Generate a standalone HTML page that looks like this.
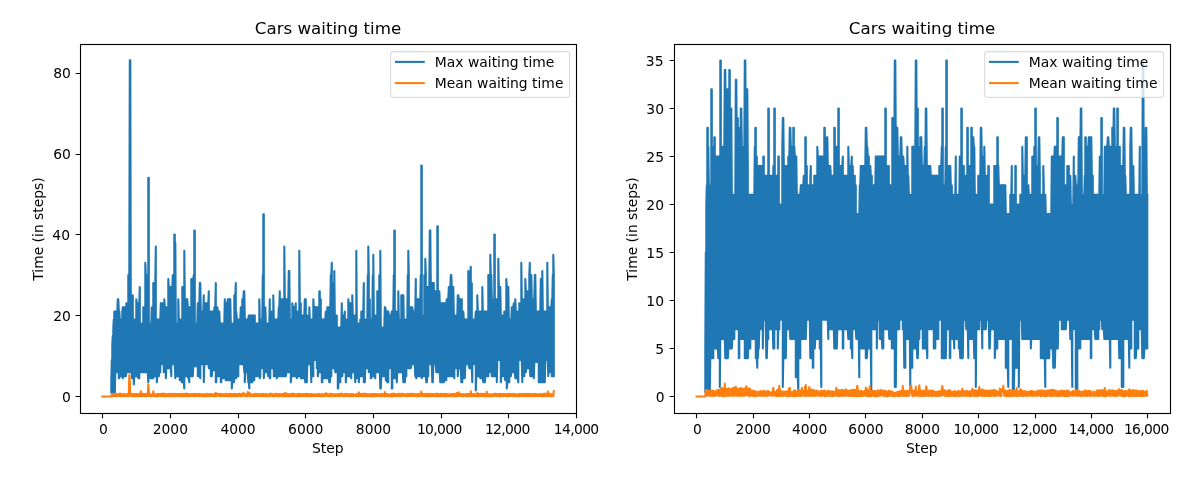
<!DOCTYPE html>
<html lang="en">
<head>
<meta charset="utf-8">
<title>Cars waiting time</title>
<style>
html,body{margin:0;padding:0;background:#fff;}
body{width:1200px;height:482px;overflow:hidden;}
svg{display:block;opacity:0.999;will-change:transform;}
svg text{font-family:"DejaVu Sans","Liberation Sans",sans-serif;font-size:13.889px;fill:#000;}
</style>
</head>
<body>
<svg width="1200" height="482" viewBox="0 0 1200 482">
<rect width="1200" height="482" fill="#fff"/>
<clipPath id="clip0"><rect x="80.5" y="44.5" width="496.0" height="369.0"/></clipPath>
<g clip-path="url(#clip0)" fill="none" stroke-linejoin="round" stroke-linecap="square" stroke-width="2.083">
<path stroke="#1f77b4" d="M111.30 392.45L111.30 380.30L111.80 360.05L111.80 392.45L112.30 392.45L112.30 343.85L112.80 335.75L112.80 392.45L113.30 392.45L113.30 327.65L113.80 319.55L113.80 392.45L114.30 392.45L114.30 311.45L114.80 311.45L114.80 392.45L115.30 372.20L115.30 311.45L115.80 311.45L115.80 372.20L116.30 372.20L116.30 311.45L116.80 311.45L116.80 372.20L117.30 372.20L117.30 311.45L117.80 299.30L117.80 372.20L118.30 372.20L118.30 299.30L118.80 311.45L118.80 378.27L119.30 378.27L119.30 311.45L119.80 319.55L119.80 376.25L120.30 376.25L120.30 319.55L120.80 319.55L120.80 376.25L121.30 376.25L121.30 319.55L121.80 319.55L121.80 376.25L122.30 376.25L122.30 311.45L122.80 307.40L122.80 378.27L123.30 376.25L123.30 307.40L123.80 307.40L123.80 376.25L124.30 376.25L124.30 307.40L124.80 307.40L124.80 376.25L125.30 376.25L125.30 307.40L125.80 307.40L125.80 376.25L126.30 372.20L126.30 303.35L126.80 303.35L126.80 372.20L127.30 372.20L127.30 303.35L127.80 303.35L127.80 372.20L128.30 372.20L128.30 275.00L128.80 275.00L128.80 372.20L129.30 372.20L129.30 275.00L129.80 60.35L129.80 372.20L130.30 372.20L130.30 60.35L130.80 319.55L130.80 372.20L131.30 372.20L131.30 319.55L131.80 319.55L131.80 378.27L132.30 378.27L132.30 319.55L132.80 295.25L132.80 378.27L133.30 378.27L133.30 319.55L133.80 319.55L133.80 384.35L134.30 376.25L134.30 319.55L134.80 319.55L134.80 376.25L135.30 376.25L135.30 319.55L135.80 319.55L135.80 376.25L136.30 376.25L136.30 299.30L136.80 303.35L136.80 376.25L137.30 376.25L137.30 303.35L137.80 303.35L137.80 376.25L138.30 378.27L138.30 303.35L138.80 303.35L138.80 378.27L139.30 378.27L139.30 303.35L139.80 287.15L139.80 372.20L140.30 372.20L140.30 323.60L140.80 323.60L140.80 372.20L141.30 372.20L141.30 323.60L141.80 323.60L141.80 372.20L142.30 372.20L142.30 323.60L142.80 323.60L142.80 372.20L143.30 372.20L143.30 307.40L143.80 307.40L143.80 372.20L144.30 372.20L144.30 307.40L144.80 307.40L144.80 372.20L145.30 372.20L145.30 262.85L145.80 275.00L145.80 372.20L146.30 372.20L146.30 275.00L146.80 275.00L146.80 372.20L147.30 372.20L147.30 275.00L147.80 275.00L147.80 372.20L148.30 382.32L148.30 177.80L148.80 177.80L148.80 378.27L149.30 378.27L149.30 323.60L149.80 323.60L149.80 378.27L150.30 378.27L150.30 323.60L150.80 323.60L150.80 378.27L151.30 378.27L151.30 323.60L151.80 307.40L151.80 378.27L152.30 378.27L152.30 307.40L152.80 307.40L152.80 378.27L153.30 378.27L153.30 283.10L153.80 283.10L153.80 376.25L154.30 376.25L154.30 283.10L154.80 283.10L154.80 376.25L155.30 376.25L155.30 283.10L155.80 246.65L155.80 376.25L156.30 376.25L156.30 319.55L156.80 319.55L156.80 382.32L157.30 376.25L157.30 319.55L157.80 319.55L157.80 376.25L158.30 376.25L158.30 319.55L158.80 319.55L158.80 376.25L159.30 372.20L159.30 319.55L159.80 319.55L159.80 372.20L160.30 372.20L160.30 319.55L160.80 303.35L160.80 364.10L161.30 364.10L161.30 303.35L161.80 303.35L161.80 364.10L162.30 364.10L162.30 303.35L162.80 303.35L162.80 364.10L163.30 364.10L163.30 303.35L163.80 303.35L163.80 372.20L164.30 372.20L164.30 299.30L164.80 307.40L164.80 372.20L165.30 372.20L165.30 307.40L165.80 307.40L165.80 378.27L166.30 368.15L166.30 307.40L166.80 307.40L166.80 368.15L167.30 368.15L167.30 307.40L167.80 307.40L167.80 368.15L168.30 368.15L168.30 279.05L168.80 287.15L168.80 368.15L169.30 368.15L169.30 287.15L169.80 287.15L169.80 368.15L170.30 368.15L170.30 287.15L170.80 287.15L170.80 368.15L171.30 376.25L171.30 287.15L171.80 287.15L171.80 364.10L172.30 364.10L172.30 287.15L172.80 275.00L172.80 364.10L173.30 364.10L173.30 275.00L173.80 275.00L173.80 364.10L174.30 364.10L174.30 234.50L174.80 234.50L174.80 364.10L175.30 378.27L175.30 242.60L175.80 323.60L175.80 376.25L176.30 376.25L176.30 323.60L176.80 323.60L176.80 376.25L177.30 376.25L177.30 323.60L177.80 323.60L177.80 376.25L178.30 376.25L178.30 299.30L178.80 319.55L178.80 376.25L179.30 376.25L179.30 319.55L179.80 319.55L179.80 380.30L180.30 380.30L180.30 319.55L180.80 319.55L180.80 380.30L181.30 380.30L181.30 319.55L181.80 319.55L181.80 382.32L182.30 382.32L182.30 287.15L182.80 287.15L182.80 382.32L183.30 382.32L183.30 287.15L183.80 287.15L183.80 382.32L184.30 388.40L184.30 250.70L184.80 299.30L184.80 376.25L185.30 376.25L185.30 299.30L185.80 299.30L185.80 376.25L186.30 376.25L186.30 299.30L186.80 299.30L186.80 376.25L187.30 376.25L187.30 299.30L187.80 307.40L187.80 376.25L188.30 378.27L188.30 307.40L188.80 307.40L188.80 378.27L189.30 382.32L189.30 307.40L189.80 307.40L189.80 376.25L190.30 376.25L190.30 307.40L190.80 307.40L190.80 376.25L191.30 376.25L191.30 279.05L191.80 279.05L191.80 376.25L192.30 376.25L192.30 279.05L192.80 279.05L192.80 376.25L193.30 366.12L193.30 279.05L193.80 275.00L193.80 366.12L194.30 366.12L194.30 230.45L194.80 230.45L194.80 366.12L195.30 366.12L195.30 323.60L195.80 323.60L195.80 366.12L196.30 366.12L196.30 323.60L196.80 323.60L196.80 366.12L197.30 366.12L197.30 323.60L197.80 303.35L197.80 376.25L198.30 376.25L198.30 303.35L198.80 303.35L198.80 376.25L199.30 376.25L199.30 303.35L199.80 283.10L199.80 376.25L200.30 378.27L200.30 283.10L200.80 311.45L200.80 364.10L201.30 364.10L201.30 311.45L201.80 311.45L201.80 364.10L202.30 364.10L202.30 311.45L202.80 311.45L202.80 364.10L203.30 364.10L203.30 311.45L203.80 295.25L203.80 382.32L204.30 364.10L204.30 303.35L204.80 303.35L204.80 364.10L205.30 364.10L205.30 303.35L205.80 303.35L205.80 364.10L206.30 364.10L206.30 303.35L206.80 303.35L206.80 364.10L207.30 364.10L207.30 303.35L207.80 303.35L207.80 364.10L208.30 364.10L208.30 303.35L208.80 291.20L208.80 368.15L209.30 368.15L209.30 311.45L209.80 311.45L209.80 368.15L210.30 368.15L210.30 311.45L210.80 311.45L210.80 376.25L211.30 376.25L211.30 311.45L211.80 311.45L211.80 376.25L212.30 370.18L212.30 311.45L212.80 311.45L212.80 370.18L213.30 370.18L213.30 311.45L213.80 311.45L213.80 370.18L214.30 370.18L214.30 307.40L214.80 307.40L214.80 370.18L215.30 370.18L215.30 307.40L215.80 283.10L215.80 382.32L216.30 382.32L216.30 307.40L216.80 307.40L216.80 376.25L217.30 376.25L217.30 307.40L217.80 311.45L217.80 376.25L218.30 376.25L218.30 311.45L218.80 311.45L218.80 376.25L219.30 376.25L219.30 311.45L219.80 323.60L219.80 376.25L220.30 376.25L220.30 323.60L220.80 323.60L220.80 382.32L221.30 382.32L221.30 323.60L221.80 323.60L221.80 378.27L222.30 378.27L222.30 323.60L222.80 323.60L222.80 378.27L223.30 378.27L223.30 323.60L223.80 323.60L223.80 378.27L224.30 378.27L224.30 323.60L224.80 299.30L224.80 378.27L225.30 378.27L225.30 303.35L225.80 303.35L225.80 380.30L226.30 380.30L226.30 303.35L226.80 303.35L226.80 380.30L227.30 380.30L227.30 303.35L227.80 299.30L227.80 380.30L228.30 380.30L228.30 299.30L228.80 299.30L228.80 380.30L229.30 380.30L229.30 299.30L229.80 299.30L229.80 380.30L230.30 380.30L230.30 299.30L230.80 323.60L230.80 380.30L231.30 380.30L231.30 323.60L231.80 323.60L231.80 388.40L232.30 382.32L232.30 323.60L232.80 323.60L232.80 382.32L233.30 382.32L233.30 323.60L233.80 323.60L233.80 382.32L234.30 378.27L234.30 295.25L234.80 295.25L234.80 378.27L235.30 378.27L235.30 295.25L235.80 283.10L235.80 378.27L236.30 378.27L236.30 311.45L236.80 319.55L236.80 376.25L237.30 376.25L237.30 319.55L237.80 319.55L237.80 376.25L238.30 376.25L238.30 319.55L238.80 319.55L238.80 364.10L239.30 364.10L239.30 319.55L239.80 319.55L239.80 364.10L240.30 364.10L240.30 319.55L240.80 307.40L240.80 364.10L241.30 364.10L241.30 307.40L241.80 307.40L241.80 364.10L242.30 364.10L242.30 299.30L242.80 299.30L242.80 364.10L243.30 364.10L243.30 299.30L243.80 291.20L243.80 364.10L244.30 372.20L244.30 291.20L244.80 319.55L244.80 382.32L245.30 372.20L245.30 319.55L245.80 319.55L245.80 372.20L246.30 372.20L246.30 319.55L246.80 319.55L246.80 372.20L247.30 372.20L247.30 319.55L247.80 319.55L247.80 372.20L248.30 382.32L248.30 319.55L248.80 315.50L248.80 382.32L249.30 388.40L249.30 315.50L249.80 315.50L249.80 382.32L250.30 382.32L250.30 315.50L250.80 315.50L250.80 382.32L251.30 382.32L251.30 315.50L251.80 315.50L251.80 382.32L252.30 382.32L252.30 315.50L252.80 315.50L252.80 380.30L253.30 380.30L253.30 315.50L253.80 315.50L253.80 380.30L254.30 380.30L254.30 315.50L254.80 315.50L254.80 376.25L255.30 376.25L255.30 323.60L255.80 323.60L255.80 376.25L256.30 376.25L256.30 323.60L256.80 323.60L256.80 376.25L257.30 376.25L257.30 323.60L257.80 323.60L257.80 376.25L258.30 376.25L258.30 323.60L258.80 323.60L258.80 376.25L259.30 376.25L259.30 299.30L259.80 319.55L259.80 378.27L260.30 376.25L260.30 319.55L260.80 319.55L260.80 368.15L261.30 368.15L261.30 319.55L261.80 319.55L261.80 368.15L262.30 368.15L262.30 319.55L262.80 275.00L262.80 368.15L263.30 368.15L263.30 214.25L263.80 214.25L263.80 378.27L264.30 372.20L264.30 307.40L264.80 307.40L264.80 372.20L265.30 372.20L265.30 307.40L265.80 323.60L265.80 372.20L266.30 372.20L266.30 323.60L266.80 323.60L266.80 372.20L267.30 372.20L267.30 323.60L267.80 323.60L267.80 372.20L268.30 376.25L268.30 323.60L268.80 323.60L268.80 376.25L269.30 376.25L269.30 323.60L269.80 299.30L269.80 378.27L270.30 378.27L270.30 311.45L270.80 311.45L270.80 368.15L271.30 368.15L271.30 311.45L271.80 311.45L271.80 368.15L272.30 368.15L272.30 311.45L272.80 311.45L272.80 368.15L273.30 368.15L273.30 295.25L273.80 319.55L273.80 376.25L274.30 376.25L274.30 319.55L274.80 319.55L274.80 376.25L275.30 376.25L275.30 319.55L275.80 319.55L275.80 376.25L276.30 376.25L276.30 319.55L276.80 319.55L276.80 378.27L277.30 376.25L277.30 319.55L277.80 319.55L277.80 376.25L278.30 376.25L278.30 319.55L278.80 307.40L278.80 376.25L279.30 376.25L279.30 307.40L279.80 291.20L279.80 376.25L280.30 376.25L280.30 299.30L280.80 299.30L280.80 376.25L281.30 376.25L281.30 299.30L281.80 299.30L281.80 376.25L282.30 376.25L282.30 299.30L282.80 299.30L282.80 376.25L283.30 376.25L283.30 299.30L283.80 299.30L283.80 376.25L284.30 376.25L284.30 246.65L284.80 299.30L284.80 376.25L285.30 376.25L285.30 299.30L285.80 299.30L285.80 376.25L286.30 372.20L286.30 299.30L286.80 299.30L286.80 372.20L287.30 372.20L287.30 299.30L287.80 299.30L287.80 372.20L288.30 372.20L288.30 299.30L288.80 270.95L288.80 372.20L289.30 372.20L289.30 270.95L289.80 319.55L289.80 372.20L290.30 372.20L290.30 319.55L290.80 319.55L290.80 382.32L291.30 376.25L291.30 319.55L291.80 319.55L291.80 376.25L292.30 376.25L292.30 303.35L292.80 307.40L292.80 376.25L293.30 376.25L293.30 307.40L293.80 307.40L293.80 376.25L294.30 376.25L294.30 307.40L294.80 307.40L294.80 376.25L295.30 376.25L295.30 307.40L295.80 303.35L295.80 376.25L296.30 376.25L296.30 311.45L296.80 311.45L296.80 378.27L297.30 376.25L297.30 311.45L297.80 311.45L297.80 376.25L298.30 376.25L298.30 311.45L298.80 311.45L298.80 376.25L299.30 376.25L299.30 250.70L299.80 303.35L299.80 376.25L300.30 376.25L300.30 303.35L300.80 303.35L300.80 378.27L301.30 378.27L301.30 315.50L301.80 315.50L301.80 378.27L302.30 378.27L302.30 315.50L302.80 315.50L302.80 378.27L303.30 378.27L303.30 315.50L303.80 315.50L303.80 378.27L304.30 378.27L304.30 315.50L304.80 299.30L304.80 378.27L305.30 382.32L305.30 299.30L305.80 299.30L305.80 382.32L306.30 382.32L306.30 315.50L306.80 315.50L306.80 382.32L307.30 364.10L307.30 315.50L307.80 315.50L307.80 364.10L308.30 364.10L308.30 315.50L308.80 315.50L308.80 364.10L309.30 364.10L309.30 307.40L309.80 319.55L309.80 364.10L310.30 364.10L310.30 319.55L310.80 319.55L310.80 364.10L311.30 382.32L311.30 319.55L311.80 319.55L311.80 376.25L312.30 376.25L312.30 319.55L312.80 319.55L312.80 376.25L313.30 376.25L313.30 299.30L313.80 307.40L313.80 360.05L314.30 360.05L314.30 307.40L314.80 307.40L314.80 360.05L315.30 360.05L315.30 307.40L315.80 307.40L315.80 360.05L316.30 360.05L316.30 307.40L316.80 307.40L316.80 368.15L317.30 368.15L317.30 307.40L317.80 307.40L317.80 376.25L318.30 372.20L318.30 307.40L318.80 307.40L318.80 372.20L319.30 372.20L319.30 291.20L319.80 291.20L319.80 372.20L320.30 372.20L320.30 299.30L320.80 299.30L320.80 372.20L321.30 372.20L321.30 319.55L321.80 319.55L321.80 382.32L322.30 382.32L322.30 319.55L322.80 319.55L322.80 378.27L323.30 378.27L323.30 319.55L323.80 319.55L323.80 378.27L324.30 378.27L324.30 319.55L324.80 319.55L324.80 378.27L325.30 378.27L325.30 319.55L325.80 311.45L325.80 378.27L326.30 378.27L326.30 311.45L326.80 311.45L326.80 378.27L327.30 378.27L327.30 307.40L327.80 307.40L327.80 378.27L328.30 378.27L328.30 307.40L328.80 307.40L328.80 378.27L329.30 382.32L329.30 307.40L329.80 307.40L329.80 382.32L330.30 376.25L330.30 307.40L330.80 275.00L330.80 376.25L331.30 376.25L331.30 275.00L331.80 262.85L331.80 368.15L332.30 368.15L332.30 283.10L332.80 283.10L332.80 368.15L333.30 368.15L333.30 283.10L333.80 283.10L333.80 368.15L334.30 368.15L334.30 270.95L334.80 315.50L334.80 368.15L335.30 372.20L335.30 315.50L335.80 315.50L335.80 372.20L336.30 372.20L336.30 315.50L336.80 315.50L336.80 372.20L337.30 372.20L337.30 327.65L337.80 327.65L337.80 388.40L338.30 388.40L338.30 327.65L338.80 327.65L338.80 382.32L339.30 382.32L339.30 327.65L339.80 327.65L339.80 382.32L340.30 382.32L340.30 327.65L340.80 327.65L340.80 376.25L341.30 376.25L341.30 327.65L341.80 303.35L341.80 376.25L342.30 376.25L342.30 315.50L342.80 315.50L342.80 372.20L343.30 372.20L343.30 315.50L343.80 315.50L343.80 372.20L344.30 372.20L344.30 315.50L344.80 311.45L344.80 372.20L345.30 372.20L345.30 319.55L345.80 319.55L345.80 382.32L346.30 376.25L346.30 319.55L346.80 319.55L346.80 376.25L347.30 376.25L347.30 319.55L347.80 319.55L347.80 376.25L348.30 376.25L348.30 299.30L348.80 303.35L348.80 376.25L349.30 376.25L349.30 303.35L349.80 303.35L349.80 376.25L350.30 376.25L350.30 303.35L350.80 303.35L350.80 376.25L351.30 378.27L351.30 303.35L351.80 303.35L351.80 372.20L352.30 372.20L352.30 295.25L352.80 315.50L352.80 372.20L353.30 372.20L353.30 315.50L353.80 315.50L353.80 372.20L354.30 372.20L354.30 315.50L354.80 315.50L354.80 372.20L355.30 382.32L355.30 315.50L355.80 315.50L355.80 378.27L356.30 378.27L356.30 250.70L356.80 323.60L356.80 378.27L357.30 378.27L357.30 323.60L357.80 323.60L357.80 378.27L358.30 378.27L358.30 323.60L358.80 323.60L358.80 382.32L359.30 376.25L359.30 323.60L359.80 323.60L359.80 376.25L360.30 376.25L360.30 319.55L360.80 319.55L360.80 376.25L361.30 376.25L361.30 311.45L361.80 311.45L361.80 376.25L362.30 376.25L362.30 311.45L362.80 311.45L362.80 376.25L363.30 376.25L363.30 311.45L363.80 283.10L363.80 382.32L364.30 382.32L364.30 319.55L364.80 319.55L364.80 382.32L365.30 368.15L365.30 319.55L365.80 319.55L365.80 368.15L366.30 368.15L366.30 319.55L366.80 319.55L366.80 368.15L367.30 368.15L367.30 319.55L367.80 275.00L367.80 368.15L368.30 368.15L368.30 246.65L368.80 275.00L368.80 372.20L369.30 372.20L369.30 299.30L369.80 299.30L369.80 372.20L370.30 372.20L370.30 319.55L370.80 319.55L370.80 378.27L371.30 378.27L371.30 319.55L371.80 319.55L371.80 376.25L372.30 376.25L372.30 319.55L372.80 275.00L372.80 376.25L373.30 376.25L373.30 254.75L373.80 315.50L373.80 376.25L374.30 376.25L374.30 315.50L374.80 315.50L374.80 376.25L375.30 378.27L375.30 315.50L375.80 315.50L375.80 372.20L376.30 372.20L376.30 315.50L376.80 315.50L376.80 372.20L377.30 372.20L377.30 291.20L377.80 291.20L377.80 372.20L378.30 372.20L378.30 291.20L378.80 291.20L378.80 372.20L379.30 372.20L379.30 275.00L379.80 275.00L379.80 372.20L380.30 388.40L380.30 250.70L380.80 327.65L380.80 388.40L381.30 376.25L381.30 327.65L381.80 327.65L381.80 376.25L382.30 376.25L382.30 327.65L382.80 327.65L382.80 376.25L383.30 376.25L383.30 327.65L383.80 327.65L383.80 376.25L384.30 376.25L384.30 327.65L384.80 307.40L384.80 376.25L385.30 376.25L385.30 307.40L385.80 311.45L385.80 380.30L386.30 380.30L386.30 311.45L386.80 311.45L386.80 380.30L387.30 382.32L387.30 311.45L387.80 311.45L387.80 382.32L388.30 382.32L388.30 311.45L388.80 315.50L388.80 368.15L389.30 368.15L389.30 315.50L389.80 315.50L389.80 368.15L390.30 368.15L390.30 315.50L390.80 315.50L390.80 368.15L391.30 368.15L391.30 315.50L391.80 311.45L391.80 388.40L392.30 388.40L392.30 311.45L392.80 311.45L392.80 378.27L393.30 378.27L393.30 311.45L393.80 275.00L393.80 378.27L394.30 378.27L394.30 230.45L394.80 230.45L394.80 378.27L395.30 378.27L395.30 311.45L395.80 311.45L395.80 378.27L396.30 378.27L396.30 311.45L396.80 311.45L396.80 382.32L397.30 372.20L397.30 311.45L397.80 311.45L397.80 372.20L398.30 372.20L398.30 291.20L398.80 319.55L398.80 372.20L399.30 372.20L399.30 319.55L399.80 319.55L399.80 372.20L400.30 372.20L400.30 319.55L400.80 319.55L400.80 372.20L401.30 372.20L401.30 295.25L401.80 295.25L401.80 372.20L402.30 372.20L402.30 295.25L402.80 295.25L402.80 372.20L403.30 382.32L403.30 295.25L403.80 319.55L403.80 382.32L404.30 382.32L404.30 319.55L404.80 319.55L404.80 382.32L405.30 376.25L405.30 319.55L405.80 319.55L405.80 376.25L406.30 376.25L406.30 319.55L406.80 319.55L406.80 368.15L407.30 368.15L407.30 319.55L407.80 275.00L407.80 368.15L408.30 368.15L408.30 250.70L408.80 275.00L408.80 368.15L409.30 368.15L409.30 307.40L409.80 307.40L409.80 368.15L410.30 368.15L410.30 307.40L410.80 307.40L410.80 368.15L411.30 364.10L411.30 307.40L411.80 307.40L411.80 364.10L412.30 364.10L412.30 307.40L412.80 311.45L412.80 364.10L413.30 364.10L413.30 311.45L413.80 311.45L413.80 364.10L414.30 364.10L414.30 311.45L414.80 311.45L414.80 364.10L415.30 376.25L415.30 311.45L415.80 279.05L415.80 376.25L416.30 378.27L416.30 299.30L416.80 299.30L416.80 376.25L417.30 376.25L417.30 299.30L417.80 299.30L417.80 376.25L418.30 376.25L418.30 299.30L418.80 299.30L418.80 376.25L419.30 376.25L419.30 299.30L419.80 299.30L419.80 376.25L420.30 376.25L420.30 299.30L420.80 275.00L420.80 376.25L421.30 376.25L421.30 165.65L421.80 165.65L421.80 378.27L422.30 376.25L422.30 315.50L422.80 315.50L422.80 376.25L423.30 376.25L423.30 315.50L423.80 315.50L423.80 376.25L424.30 376.25L424.30 275.00L424.80 275.00L424.80 376.25L425.30 376.25L425.30 258.80L425.80 275.00L425.80 376.25L426.30 382.32L426.30 287.15L426.80 287.15L426.80 382.32L427.30 376.25L427.30 287.15L427.80 287.15L427.80 376.25L428.30 376.25L428.30 287.15L428.80 287.15L428.80 364.10L429.30 364.10L429.30 287.15L429.80 230.45L429.80 364.10L430.30 364.10L430.30 230.45L430.80 283.10L430.80 364.10L431.30 364.10L431.30 283.10L431.80 283.10L431.80 364.10L432.30 382.32L432.30 283.10L432.80 283.10L432.80 382.32L433.30 364.10L433.30 283.10L433.80 283.10L433.80 364.10L434.30 364.10L434.30 291.20L434.80 291.20L434.80 364.10L435.30 364.10L435.30 291.20L435.80 291.20L435.80 364.10L436.30 372.20L436.30 291.20L436.80 291.20L436.80 372.20L437.30 372.20L437.30 226.40L437.80 226.40L437.80 372.20L438.30 372.20L438.30 291.20L438.80 291.20L438.80 372.20L439.30 372.20L439.30 291.20L439.80 303.35L439.80 372.20L440.30 382.32L440.30 303.35L440.80 303.35L440.80 382.32L441.30 382.32L441.30 303.35L441.80 303.35L441.80 382.32L442.30 382.32L442.30 303.35L442.80 303.35L442.80 382.32L443.30 382.32L443.30 303.35L443.80 303.35L443.80 382.32L444.30 380.30L444.30 303.35L444.80 303.35L444.80 380.30L445.30 380.30L445.30 303.35L445.80 303.35L445.80 380.30L446.30 380.30L446.30 303.35L446.80 299.30L446.80 376.25L447.30 376.25L447.30 299.30L447.80 299.30L447.80 376.25L448.30 376.25L448.30 299.30L448.80 287.15L448.80 376.25L449.30 376.25L449.30 287.15L449.80 287.15L449.80 376.25L450.30 376.25L450.30 287.15L450.80 275.00L450.80 376.25L451.30 376.25L451.30 275.00L451.80 287.15L451.80 376.25L452.30 376.25L452.30 287.15L452.80 287.15L452.80 376.25L453.30 376.25L453.30 287.15L453.80 315.50L453.80 376.25L454.30 378.27L454.30 315.50L454.80 315.50L454.80 368.15L455.30 368.15L455.30 315.50L455.80 315.50L455.80 368.15L456.30 368.15L456.30 315.50L456.80 315.50L456.80 368.15L457.30 368.15L457.30 315.50L457.80 295.25L457.80 376.25L458.30 368.15L458.30 295.25L458.80 299.30L458.80 368.15L459.30 368.15L459.30 299.30L459.80 299.30L459.80 368.15L460.30 368.15L460.30 299.30L460.80 299.30L460.80 368.15L461.30 382.32L461.30 299.30L461.80 299.30L461.80 382.32L462.30 382.32L462.30 311.45L462.80 311.45L462.80 378.27L463.30 378.27L463.30 311.45L463.80 319.55L463.80 378.27L464.30 378.27L464.30 319.55L464.80 319.55L464.80 378.27L465.30 364.10L465.30 319.55L465.80 319.55L465.80 364.10L466.30 364.10L466.30 319.55L466.80 319.55L466.80 364.10L467.30 364.10L467.30 319.55L467.80 319.55L467.80 364.10L468.30 364.10L468.30 270.95L468.80 275.00L468.80 364.10L469.30 368.15L469.30 275.00L469.80 275.00L469.80 368.15L470.30 368.15L470.30 275.00L470.80 266.90L470.80 368.15L471.30 368.15L471.30 283.10L471.80 283.10L471.80 368.15L472.30 382.32L472.30 319.55L472.80 319.55L472.80 364.10L473.30 364.10L473.30 319.55L473.80 319.55L473.80 364.10L474.30 364.10L474.30 319.55L474.80 319.55L474.80 364.10L475.30 364.10L475.30 319.55L475.80 311.45L475.80 390.43L476.30 376.25L476.30 311.45L476.80 311.45L476.80 376.25L477.30 376.25L477.30 295.25L477.80 311.45L477.80 376.25L478.30 376.25L478.30 311.45L478.80 311.45L478.80 376.25L479.30 376.25L479.30 311.45L479.80 311.45L479.80 376.25L480.30 378.27L480.30 311.45L480.80 311.45L480.80 378.27L481.30 378.27L481.30 311.45L481.80 311.45L481.80 378.27L482.30 378.27L482.30 287.15L482.80 311.45L482.80 378.27L483.30 382.32L483.30 311.45L483.80 311.45L483.80 382.32L484.30 382.32L484.30 311.45L484.80 311.45L484.80 382.32L485.30 376.25L485.30 311.45L485.80 311.45L485.80 376.25L486.30 376.25L486.30 311.45L486.80 311.45L486.80 376.25L487.30 376.25L487.30 311.45L487.80 311.45L487.80 376.25L488.30 376.25L488.30 275.00L488.80 275.00L488.80 372.20L489.30 372.20L489.30 275.00L489.80 275.00L489.80 372.20L490.30 372.20L490.30 254.75L490.80 275.00L490.80 372.20L491.30 372.20L491.30 275.00L491.80 299.30L491.80 376.25L492.30 376.25L492.30 299.30L492.80 299.30L492.80 376.25L493.30 376.25L493.30 299.30L493.80 299.30L493.80 376.25L494.30 376.25L494.30 234.50L494.80 234.50L494.80 376.25L495.30 376.25L495.30 299.30L495.80 299.30L495.80 376.25L496.30 376.25L496.30 299.30L496.80 299.30L496.80 382.32L497.30 360.05L497.30 299.30L497.80 299.30L497.80 360.05L498.30 360.05L498.30 258.80L498.80 287.15L498.80 360.05L499.30 360.05L499.30 287.15L499.80 287.15L499.80 360.05L500.30 360.05L500.30 287.15L500.80 315.50L500.80 382.32L501.30 376.25L501.30 315.50L501.80 315.50L501.80 376.25L502.30 376.25L502.30 315.50L502.80 315.50L502.80 376.25L503.30 376.25L503.30 315.50L503.80 315.50L503.80 376.25L504.30 376.25L504.30 311.45L504.80 311.45L504.80 376.25L505.30 380.30L505.30 311.45L505.80 311.45L505.80 380.30L506.30 380.30L506.30 279.05L506.80 287.15L506.80 388.40L507.30 382.32L507.30 287.15L507.80 287.15L507.80 382.32L508.30 382.32L508.30 287.15L508.80 319.55L508.80 382.32L509.30 382.32L509.30 319.55L509.80 319.55L509.80 376.25L510.30 376.25L510.30 319.55L510.80 319.55L510.80 376.25L511.30 372.20L511.30 319.55L511.80 307.40L511.80 372.20L512.30 372.20L512.30 307.40L512.80 307.40L512.80 372.20L513.30 372.20L513.30 307.40L513.80 303.35L513.80 372.20L514.30 372.20L514.30 303.35L514.80 303.35L514.80 372.20L515.30 378.27L515.30 299.30L515.80 311.45L515.80 378.27L516.30 378.27L516.30 311.45L516.80 311.45L516.80 378.27L517.30 378.27L517.30 311.45L517.80 311.45L517.80 378.27L518.30 382.32L518.30 311.45L518.80 311.45L518.80 360.05L519.30 360.05L519.30 303.35L519.80 303.35L519.80 360.05L520.30 360.05L520.30 303.35L520.80 303.35L520.80 360.05L521.30 360.05L521.30 262.85L521.80 299.30L521.80 360.05L522.30 382.32L522.30 299.30L522.80 299.30L522.80 376.25L523.30 376.25L523.30 299.30L523.80 299.30L523.80 376.25L524.30 376.25L524.30 299.30L524.80 299.30L524.80 372.20L525.30 372.20L525.30 279.05L525.80 291.20L525.80 372.20L526.30 368.15L526.30 291.20L526.80 291.20L526.80 368.15L527.30 368.15L527.30 291.20L527.80 291.20L527.80 368.15L528.30 368.15L528.30 291.20L528.80 291.20L528.80 368.15L529.30 368.15L529.30 275.00L529.80 262.85L529.80 368.15L530.30 376.25L530.30 275.00L530.80 275.00L530.80 376.25L531.30 376.25L531.30 275.00L531.80 299.30L531.80 376.25L532.30 376.25L532.30 299.30L532.80 299.30L532.80 376.25L533.30 376.25L533.30 299.30L533.80 299.30L533.80 378.27L534.30 362.07L534.30 299.30L534.80 275.00L534.80 362.07L535.30 362.07L535.30 275.00L535.80 311.45L535.80 362.07L536.30 362.07L536.30 311.45L536.80 311.45L536.80 362.07L537.30 362.07L537.30 311.45L537.80 311.45L537.80 362.07L538.30 362.07L538.30 311.45L538.80 311.45L538.80 382.32L539.30 382.32L539.30 311.45L539.80 311.45L539.80 382.32L540.30 382.32L540.30 311.45L540.80 279.05L540.80 382.32L541.30 382.32L541.30 279.05L541.80 279.05L541.80 382.32L542.30 382.32L542.30 270.95L542.80 311.45L542.80 382.32L543.30 382.32L543.30 311.45L543.80 311.45L543.80 382.32L544.30 382.32L544.30 311.45L544.80 311.45L544.80 382.32L545.30 360.05L545.30 311.45L545.80 311.45L545.80 360.05L546.30 360.05L546.30 311.45L546.80 311.45L546.80 360.05L547.30 360.05L547.30 262.85L547.80 307.40L547.80 360.05L548.30 376.25L548.30 307.40L548.80 307.40L548.80 372.20L549.30 372.20L549.30 307.40L549.80 307.40L549.80 372.20L550.30 372.20L550.30 307.40L550.80 307.40L550.80 372.20L551.30 372.20L551.30 307.40L551.80 299.30L551.80 376.25L552.30 376.25L552.30 299.30L552.80 275.00L552.80 376.25L553.30 376.25L553.30 254.75L553.80 275.00L553.80 376.25"/>
<path stroke="#ff7f0e" d="M102.22 396.50L111.00 396.50L111.30 396.18L111.80 394.48L112.30 396.30L112.80 394.02L113.30 395.97L113.80 394.39L114.30 396.17L114.80 394.19L115.30 396.19L115.80 393.83L116.30 396.09L116.80 394.22L117.30 395.89L117.80 394.41L118.30 396.05L118.80 394.17L119.30 396.21L119.80 393.58L120.30 396.05L120.80 393.85L121.30 396.28L121.80 394.40L122.30 396.11L122.80 394.11L123.30 396.04L123.80 393.77L124.30 396.10L124.80 394.54L125.30 396.29L125.80 394.45L126.30 396.02L126.80 394.00L127.30 396.15L127.80 393.75L128.30 395.96L128.80 393.91L129.30 375.04L129.80 382.32L130.30 396.09L130.80 394.47L131.30 396.04L131.80 393.97L132.30 396.26L132.80 394.15L133.30 396.09L133.80 393.78L134.30 396.15L134.80 394.22L135.30 396.27L135.80 394.16L136.30 396.17L136.80 394.10L137.30 395.97L137.80 394.51L138.30 395.90L138.80 393.87L139.30 396.05L139.80 394.42L140.30 396.02L140.80 391.33L141.30 396.12L141.80 393.92L142.30 396.13L142.80 393.76L143.30 395.91L143.80 393.90L144.30 396.03L144.80 394.54L145.30 395.94L145.80 393.79L146.30 396.24L146.80 394.28L147.30 395.91L147.80 393.95L148.30 384.35L148.80 390.43L149.30 396.22L149.80 394.15L150.30 396.07L150.80 394.28L151.30 395.94L151.80 394.48L152.30 396.07L152.80 394.15L153.30 391.36L153.80 394.44L154.30 396.28L154.80 394.40L155.30 396.11L155.80 394.33L156.30 396.17L156.80 394.23L157.30 396.29L157.80 393.79L158.30 396.29L158.80 394.18L159.30 395.91L159.80 394.03L160.30 396.12L160.80 393.96L161.30 395.94L161.80 393.83L162.30 396.06L162.80 393.47L163.30 396.15L163.80 394.47L164.30 395.99L164.80 393.89L165.30 396.24L165.80 393.91L166.30 396.30L166.80 394.46L167.30 395.97L167.80 394.17L168.30 396.13L168.80 394.17L169.30 396.29L169.80 393.85L170.30 395.98L170.80 394.39L171.30 396.00L171.80 393.86L172.30 396.22L172.80 393.96L173.30 396.22L173.80 393.90L174.30 395.91L174.80 394.09L175.30 396.16L175.80 393.91L176.30 395.91L176.80 393.98L177.30 395.90L177.80 394.12L178.30 396.09L178.80 393.95L179.30 396.00L179.80 394.00L180.30 396.12L180.80 394.07L181.30 396.13L181.80 394.46L182.30 396.27L182.80 393.82L183.30 396.09L183.80 394.55L184.30 396.20L184.80 393.99L185.30 396.02L185.80 393.56L186.30 396.04L186.80 393.92L187.30 396.16L187.80 394.13L188.30 396.22L188.80 394.00L189.30 396.21L189.80 394.40L190.30 395.96L190.80 394.20L191.30 396.05L191.80 394.18L192.30 396.06L192.80 394.09L193.30 396.17L193.80 394.06L194.30 396.11L194.80 393.84L195.30 396.04L195.80 394.37L196.30 396.27L196.80 393.95L197.30 395.99L197.80 394.33L198.30 396.00L198.80 394.08L199.30 395.93L199.80 393.89L200.30 395.94L200.80 394.33L201.30 395.93L201.80 394.45L202.30 396.29L202.80 394.12L203.30 396.20L203.80 394.49L204.30 396.22L204.80 394.31L205.30 396.28L205.80 394.50L206.30 396.23L206.80 393.77L207.30 396.29L207.80 394.24L208.30 395.92L208.80 394.15L209.30 395.97L209.80 394.19L210.30 396.05L210.80 394.04L211.30 396.06L211.80 394.23L212.30 395.97L212.80 394.50L213.30 395.95L213.80 394.21L214.30 396.16L214.80 394.05L215.30 396.25L215.80 392.77L216.30 395.97L216.80 394.27L217.30 395.95L217.80 394.38L218.30 393.74L218.80 394.47L219.30 395.94L219.80 393.84L220.30 396.07L220.80 394.11L221.30 396.05L221.80 394.16L222.30 396.03L222.80 394.19L223.30 395.96L223.80 394.44L224.30 396.16L224.80 394.23L225.30 395.95L225.80 394.12L226.30 396.23L226.80 393.82L227.30 396.03L227.80 394.22L228.30 396.07L228.80 394.38L229.30 396.14L229.80 393.79L230.30 396.11L230.80 393.91L231.30 396.26L231.80 394.01L232.30 396.24L232.80 394.25L233.30 395.96L233.80 393.76L234.30 396.15L234.80 394.04L235.30 396.21L235.80 394.19L236.30 396.16L236.80 394.36L237.30 396.26L237.80 393.98L238.30 396.06L238.80 394.12L239.30 393.64L239.80 394.23L240.30 396.24L240.80 394.10L241.30 396.24L241.80 394.22L242.30 395.93L242.80 394.52L243.30 392.84L243.80 394.08L244.30 396.05L244.80 394.46L245.30 396.12L245.80 394.13L246.30 396.15L246.80 394.14L247.30 396.26L247.80 392.08L248.30 395.98L248.80 394.42L249.30 392.68L249.80 394.43L250.30 396.27L250.80 394.16L251.30 395.99L251.80 394.38L252.30 396.19L252.80 394.53L253.30 395.99L253.80 393.99L254.30 396.25L254.80 394.46L255.30 395.97L255.80 393.85L256.30 396.01L256.80 393.95L257.30 395.92L257.80 394.26L258.30 395.98L258.80 394.39L259.30 396.04L259.80 394.13L260.30 395.99L260.80 394.55L261.30 396.01L261.80 394.16L262.30 396.14L262.80 394.07L263.30 396.28L263.80 394.20L264.30 396.08L264.80 394.50L265.30 396.08L265.80 393.91L266.30 396.14L266.80 394.32L267.30 395.93L267.80 394.48L268.30 396.24L268.80 394.50L269.30 395.90L269.80 393.75L270.30 396.01L270.80 394.53L271.30 393.63L271.80 393.79L272.30 396.26L272.80 394.49L273.30 396.25L273.80 394.33L274.30 396.06L274.80 394.43L275.30 395.99L275.80 393.83L276.30 395.93L276.80 393.86L277.30 395.99L277.80 394.55L278.30 396.11L278.80 394.17L279.30 396.17L279.80 393.98L280.30 396.01L280.80 394.48L281.30 396.27L281.80 394.01L282.30 395.94L282.80 394.49L283.30 396.20L283.80 393.75L284.30 396.21L284.80 394.23L285.30 392.86L285.80 394.34L286.30 396.25L286.80 393.82L287.30 395.95L287.80 393.79L288.30 396.22L288.80 394.34L289.30 396.19L289.80 394.25L290.30 396.18L290.80 393.94L291.30 396.04L291.80 393.85L292.30 396.14L292.80 393.79L293.30 395.94L293.80 393.88L294.30 396.24L294.80 394.19L295.30 395.90L295.80 394.51L296.30 396.20L296.80 394.03L297.30 396.21L297.80 394.32L298.30 396.10L298.80 393.76L299.30 396.28L299.80 393.89L300.30 396.05L300.80 394.17L301.30 396.20L301.80 394.55L302.30 395.94L302.80 394.06L303.30 395.96L303.80 394.12L304.30 396.01L304.80 394.04L305.30 396.02L305.80 393.97L306.30 396.18L306.80 393.87L307.30 395.99L307.80 393.98L308.30 395.93L308.80 394.43L309.30 396.16L309.80 394.25L310.30 396.23L310.80 394.04L311.30 396.26L311.80 394.11L312.30 396.06L312.80 394.52L313.30 396.18L313.80 394.53L314.30 396.01L314.80 394.39L315.30 395.91L315.80 394.45L316.30 396.13L316.80 394.32L317.30 395.96L317.80 394.16L318.30 396.03L318.80 393.91L319.30 396.07L319.80 394.39L320.30 396.27L320.80 394.29L321.30 396.29L321.80 394.28L322.30 396.11L322.80 394.28L323.30 396.01L323.80 394.25L324.30 396.00L324.80 393.93L325.30 396.07L325.80 394.12L326.30 393.16L326.80 394.04L327.30 396.11L327.80 394.19L328.30 396.07L328.80 394.49L329.30 396.06L329.80 393.79L330.30 396.22L330.80 393.96L331.30 396.22L331.80 394.05L332.30 395.99L332.80 394.14L333.30 396.07L333.80 394.31L334.30 396.11L334.80 394.30L335.30 395.97L335.80 394.29L336.30 396.04L336.80 394.24L337.30 396.07L337.80 394.20L338.30 396.00L338.80 394.15L339.30 396.11L339.80 394.06L340.30 396.09L340.80 394.28L341.30 393.44L341.80 394.03L342.30 395.96L342.80 394.25L343.30 396.12L343.80 394.47L344.30 396.28L344.80 394.04L345.30 395.95L345.80 393.84L346.30 396.07L346.80 393.97L347.30 396.02L347.80 394.54L348.30 396.13L348.80 394.39L349.30 396.18L349.80 394.22L350.30 396.12L350.80 393.98L351.30 396.15L351.80 394.35L352.30 396.15L352.80 393.98L353.30 395.91L353.80 394.55L354.30 396.14L354.80 394.45L355.30 395.94L355.80 394.35L356.30 396.02L356.80 393.93L357.30 395.95L357.80 394.25L358.30 396.10L358.80 392.35L359.30 396.13L359.80 393.76L360.30 395.96L360.80 394.11L361.30 395.99L361.80 393.94L362.30 396.15L362.80 394.29L363.30 396.22L363.80 393.49L364.30 396.01L364.80 394.35L365.30 396.27L365.80 393.82L366.30 395.97L366.80 393.94L367.30 396.27L367.80 394.41L368.30 396.20L368.80 394.43L369.30 396.14L369.80 393.90L370.30 396.19L370.80 394.34L371.30 396.09L371.80 394.31L372.30 396.22L372.80 393.99L373.30 396.18L373.80 394.17L374.30 396.19L374.80 394.01L375.30 396.13L375.80 394.14L376.30 396.01L376.80 394.09L377.30 396.24L377.80 394.30L378.30 395.99L378.80 394.54L379.30 395.92L379.80 394.16L380.30 396.05L380.80 394.06L381.30 395.99L381.80 393.82L382.30 396.19L382.80 394.45L383.30 396.10L383.80 394.39L384.30 396.12L384.80 392.05L385.30 396.24L385.80 393.90L386.30 396.23L386.80 393.99L387.30 395.91L387.80 394.02L388.30 396.22L388.80 394.51L389.30 396.11L389.80 394.53L390.30 396.11L390.80 394.27L391.30 396.19L391.80 393.91L392.30 396.22L392.80 393.83L393.30 396.13L393.80 393.63L394.30 395.97L394.80 394.18L395.30 395.92L395.80 394.33L396.30 396.03L396.80 394.19L397.30 396.03L397.80 393.78L398.30 395.98L398.80 394.02L399.30 395.91L399.80 393.83L400.30 396.25L400.80 394.12L401.30 396.28L401.80 394.33L402.30 393.68L402.80 394.38L403.30 396.05L403.80 394.18L404.30 396.02L404.80 394.29L405.30 395.91L405.80 394.39L406.30 396.16L406.80 394.15L407.30 396.29L407.80 393.83L408.30 396.02L408.80 393.95L409.30 395.95L409.80 394.35L410.30 396.16L410.80 394.31L411.30 393.58L411.80 394.06L412.30 396.17L412.80 393.98L413.30 395.92L413.80 394.37L414.30 395.93L414.80 393.97L415.30 395.95L415.80 394.29L416.30 396.30L416.80 394.33L417.30 396.20L417.80 393.89L418.30 395.97L418.80 393.97L419.30 396.21L419.80 394.55L420.30 395.92L420.80 393.77L421.30 391.68L421.80 394.40L422.30 395.97L422.80 394.23L423.30 396.09L423.80 394.03L424.30 396.07L424.80 394.45L425.30 396.26L425.80 393.90L426.30 395.99L426.80 393.86L427.30 396.17L427.80 394.25L428.30 396.11L428.80 393.80L429.30 396.18L429.80 394.39L430.30 396.04L430.80 393.80L431.30 396.14L431.80 394.26L432.30 396.01L432.80 394.11L433.30 396.29L433.80 394.53L434.30 396.01L434.80 394.33L435.30 396.00L435.80 393.81L436.30 396.11L436.80 393.80L437.30 396.12L437.80 393.91L438.30 396.17L438.80 394.01L439.30 396.21L439.80 394.41L440.30 396.23L440.80 393.83L441.30 396.11L441.80 394.18L442.30 396.00L442.80 393.96L443.30 396.19L443.80 393.93L444.30 396.09L444.80 394.41L445.30 396.25L445.80 393.77L446.30 396.11L446.80 393.99L447.30 396.27L447.80 394.44L448.30 395.95L448.80 394.44L449.30 396.30L449.80 394.43L450.30 396.15L450.80 393.96L451.30 396.27L451.80 394.02L452.30 395.97L452.80 394.42L453.30 396.11L453.80 393.88L454.30 396.17L454.80 394.12L455.30 396.14L455.80 394.51L456.30 396.26L456.80 392.92L457.30 395.91L457.80 393.97L458.30 396.04L458.80 392.36L459.30 396.07L459.80 393.97L460.30 396.06L460.80 394.00L461.30 396.07L461.80 394.33L462.30 396.06L462.80 393.93L463.30 396.23L463.80 394.44L464.30 395.97L464.80 394.20L465.30 396.08L465.80 394.45L466.30 396.13L466.80 394.16L467.30 396.15L467.80 393.92L468.30 396.02L468.80 394.01L469.30 396.25L469.80 394.08L470.30 395.92L470.80 391.30L471.30 396.20L471.80 394.02L472.30 395.95L472.80 394.25L473.30 396.28L473.80 393.91L474.30 396.22L474.80 394.16L475.30 395.92L475.80 394.32L476.30 396.23L476.80 394.43L477.30 393.07L477.80 394.29L478.30 396.12L478.80 393.87L479.30 396.15L479.80 393.95L480.30 395.99L480.80 393.84L481.30 395.97L481.80 393.76L482.30 395.98L482.80 394.35L483.30 395.94L483.80 393.85L484.30 396.11L484.80 394.43L485.30 396.09L485.80 393.90L486.30 396.24L486.80 391.80L487.30 396.28L487.80 394.18L488.30 396.24L488.80 394.28L489.30 396.15L489.80 394.30L490.30 396.18L490.80 394.32L491.30 396.16L491.80 394.33L492.30 396.19L492.80 394.51L493.30 395.99L493.80 393.97L494.30 395.94L494.80 394.17L495.30 393.59L495.80 393.95L496.30 396.19L496.80 394.04L497.30 396.12L497.80 394.10L498.30 395.92L498.80 394.11L499.30 396.01L499.80 393.76L500.30 396.24L500.80 393.98L501.30 396.02L501.80 394.04L502.30 395.93L502.80 394.48L503.30 396.26L503.80 393.90L504.30 395.92L504.80 394.05L505.30 395.93L505.80 394.28L506.30 396.27L506.80 394.36L507.30 396.11L507.80 393.76L508.30 396.00L508.80 394.16L509.30 395.89L509.80 394.06L510.30 395.97L510.80 394.43L511.30 395.98L511.80 393.96L512.30 395.90L512.80 394.55L513.30 396.11L513.80 393.78L514.30 395.91L514.80 394.27L515.30 395.92L515.80 394.43L516.30 396.15L516.80 394.32L517.30 396.11L517.80 394.46L518.30 396.14L518.80 394.34L519.30 396.24L519.80 393.95L520.30 395.99L520.80 394.22L521.30 396.03L521.80 394.13L522.30 396.20L522.80 394.12L523.30 396.18L523.80 394.14L524.30 395.99L524.80 394.07L525.30 396.17L525.80 393.99L526.30 396.22L526.80 393.95L527.30 396.02L527.80 393.84L528.30 396.18L528.80 394.17L529.30 396.28L529.80 393.94L530.30 396.06L530.80 394.15L531.30 396.16L531.80 394.53L532.30 396.06L532.80 394.09L533.30 396.01L533.80 394.08L534.30 395.90L534.80 394.52L535.30 396.19L535.80 393.91L536.30 395.90L536.80 394.22L537.30 396.05L537.80 394.50L538.30 395.91L538.80 394.23L539.30 396.09L539.80 394.47L540.30 396.01L540.80 393.72L541.30 396.16L541.80 394.51L542.30 396.28L542.80 394.42L543.30 396.27L543.80 393.77L544.30 393.68L544.80 393.80L545.30 396.29L545.80 393.75L546.30 396.12L546.80 393.91L547.30 396.01L547.80 391.53L548.30 396.20L548.80 394.47L549.30 393.74L549.80 394.05L550.30 396.26L550.80 394.39L551.30 396.29L551.80 394.43L552.30 396.29L552.80 394.25L553.30 396.04L553.80 391.24"/>
</g>
<path d="M102.5 413.5v4.861M170.5 413.5v4.861M238.5 413.5v4.861M305.5 413.5v4.861M373.5 413.5v4.861M441.5 413.5v4.861M508.5 413.5v4.861M576.5 413.5v4.861M80.5 396.50h-4.861M80.5 315.50h-4.861M80.5 234.50h-4.861M80.5 154.50h-4.861M80.5 73.50h-4.861" stroke="#000" stroke-width="1.111" fill="none"/>
<rect x="80.5" y="44.5" width="496.0" height="369.0" fill="none" stroke="#000" stroke-width="1.111" stroke-linejoin="miter"/>
<text x="103.42" y="433.8" text-anchor="middle">0</text>
<text x="170.33" y="433.8" text-anchor="middle">2000</text>
<text x="238.05" y="433.8" text-anchor="middle">4000</text>
<text x="305.76" y="433.8" text-anchor="middle">6000</text>
<text x="373.48" y="433.8" text-anchor="middle">8000</text>
<text x="416.89" y="433.8" style="letter-spacing:-0.64px">10,000</text>
<text x="484.91" y="433.8" style="letter-spacing:-0.64px">12,000</text>
<text x="553.82" y="433.8" style="letter-spacing:-0.64px">14,000</text>
<text x="70.80" y="401.80" text-anchor="end">0</text>
<text x="70.80" y="320.80" text-anchor="end">20</text>
<text x="70.00" y="239.80" text-anchor="end">40</text>
<text x="70.80" y="158.80" text-anchor="end">60</text>
<text x="70.80" y="77.80" text-anchor="end">80</text>
<text x="327.70" y="453" text-anchor="middle">Step</text>
<text transform="translate(42.80 229) rotate(-90)" text-anchor="middle">Time (in steps)</text>
<text x="328.00" y="34.4" text-anchor="middle" style="font-size:16.667px">Cars waiting time</text>
<rect x="390.66" y="51.6" width="178.90" height="45.80" rx="2.78" ry="2.78" fill="#fff" fill-opacity="0.8" stroke="#ccc" stroke-opacity="0.7" stroke-width="1.1"/>
<path d="M395.96 61.9H423.74" stroke="#1f77b4" stroke-width="2.083" stroke-linecap="square"/>
<path d="M395.96 83.1H423.74" stroke="#ff7f0e" stroke-width="2.083" stroke-linecap="square"/>
<text x="434.85" y="66.7">Max waiting time</text>
<text x="434.85" y="87.9">Mean waiting time</text>
<clipPath id="clip1"><rect x="674.5" y="44.5" width="496.0" height="369.0"/></clipPath>
<g clip-path="url(#clip1)" fill="none" stroke-linejoin="round" stroke-linecap="square" stroke-width="2.083">
<path stroke="#1f77b4" d="M705.30 391.70L705.30 348.50L705.80 252.50L705.80 391.70L706.30 391.70L706.30 204.50L706.80 185.30L706.80 391.70L707.30 391.70L707.30 127.70L707.80 127.70L707.80 391.70L708.30 391.70L708.30 146.90L708.80 185.30L708.80 391.70L709.30 391.70L709.30 185.30L709.80 185.30L709.80 391.70L710.30 358.10L710.30 185.30L710.80 185.30L710.80 358.10L711.30 358.10L711.30 89.30L711.80 89.30L711.80 358.10L712.30 358.10L712.30 146.90L712.80 146.90L712.80 358.10L713.30 358.10L713.30 146.90L713.80 146.90L713.80 348.50L714.30 348.50L714.30 137.30L714.80 137.30L714.80 348.50L715.30 348.50L715.30 156.50L715.80 156.50L715.80 348.50L716.30 348.50L716.30 156.50L716.80 156.50L716.80 348.50L717.30 348.50L717.30 156.50L717.80 156.50L717.80 348.50L718.30 358.10L718.30 156.50L718.80 156.50L718.80 358.10L719.30 358.10L719.30 156.50L719.80 156.50L719.80 386.90L720.30 338.90L720.30 60.50L720.80 60.50L720.80 338.90L721.30 338.90L721.30 146.90L721.80 146.90L721.80 338.90L722.30 338.90L722.30 146.90L722.80 146.90L722.80 338.90L723.30 338.90L723.30 146.90L723.80 146.90L723.80 338.90L724.30 338.90L724.30 146.90L724.80 70.10L724.80 338.90L725.30 358.10L725.30 70.10L725.80 146.90L725.80 358.10L726.30 358.10L726.30 146.90L726.80 146.90L726.80 358.10L727.30 358.10L727.30 89.30L727.80 89.30L727.80 358.10L728.30 348.50L728.30 146.90L728.80 146.90L728.80 348.50L729.30 348.50L729.30 70.10L729.80 70.10L729.80 348.50L730.30 348.50L730.30 185.30L730.80 108.50L730.80 348.50L731.30 348.50L731.30 108.50L731.80 194.90L731.80 348.50L732.30 338.90L732.30 194.90L732.80 194.90L732.80 338.90L733.30 338.90L733.30 194.90L733.80 194.90L733.80 338.90L734.30 338.90L734.30 194.90L734.80 194.90L734.80 329.30L735.30 329.30L735.30 194.90L735.80 79.70L735.80 329.30L736.30 329.30L736.30 79.70L736.80 146.90L736.80 329.30L737.30 329.30L737.30 118.10L737.80 118.10L737.80 329.30L738.30 329.30L738.30 204.50L738.80 127.70L738.80 358.10L739.30 358.10L739.30 127.70L739.80 204.50L739.80 338.90L740.30 338.90L740.30 204.50L740.80 108.50L740.80 338.90L741.30 338.90L741.30 108.50L741.80 146.90L741.80 338.90L742.30 338.90L742.30 146.90L742.80 146.90L742.80 338.90L743.30 338.90L743.30 146.90L743.80 146.90L743.80 338.90L744.30 338.90L744.30 146.90L744.80 60.50L744.80 358.10L745.30 358.10L745.30 60.50L745.80 146.90L745.80 358.10L746.30 358.10L746.30 156.50L746.80 89.30L746.80 358.10L747.30 358.10L747.30 89.30L747.80 166.10L747.80 358.10L748.30 348.50L748.30 194.90L748.80 194.90L748.80 348.50L749.30 348.50L749.30 194.90L749.80 194.90L749.80 348.50L750.30 348.50L750.30 194.90L750.80 194.90L750.80 338.90L751.30 338.90L751.30 194.90L751.80 194.90L751.80 338.90L752.30 338.90L752.30 194.90L752.80 194.90L752.80 338.90L753.30 338.90L753.30 194.90L753.80 194.90L753.80 338.90L754.30 338.90L754.30 194.90L754.80 146.90L754.80 338.90L755.30 338.90L755.30 127.70L755.80 127.70L755.80 358.10L756.30 358.10L756.30 156.50L756.80 156.50L756.80 358.10L757.30 367.70L757.30 166.10L757.80 166.10L757.80 358.10L758.30 348.50L758.30 166.10L758.80 166.10L758.80 348.50L759.30 329.30L759.30 166.10L759.80 166.10L759.80 329.30L760.30 329.30L760.30 166.10L760.80 166.10L760.80 329.30L761.30 329.30L761.30 166.10L761.80 166.10L761.80 329.30L762.30 329.30L762.30 166.10L762.80 166.10L762.80 348.50L763.30 319.70L763.30 156.50L763.80 156.50L763.80 319.70L764.30 319.70L764.30 175.70L764.80 175.70L764.80 319.70L765.30 319.70L765.30 175.70L765.80 175.70L765.80 319.70L766.30 358.10L766.30 175.70L766.80 175.70L766.80 358.10L767.30 338.90L767.30 175.70L767.80 175.70L767.80 338.90L768.30 338.90L768.30 108.50L768.80 108.50L768.80 329.30L769.30 329.30L769.30 175.70L769.80 175.70L769.80 329.30L770.30 329.30L770.30 175.70L770.80 175.70L770.80 329.30L771.30 329.30L771.30 175.70L771.80 175.70L771.80 329.30L772.30 329.30L772.30 175.70L772.80 175.70L772.80 329.30L773.30 348.50L773.30 166.10L773.80 166.10L773.80 348.50L774.30 348.50L774.30 108.50L774.80 108.50L774.80 329.30L775.30 329.30L775.30 175.70L775.80 175.70L775.80 329.30L776.30 329.30L776.30 175.70L776.80 175.70L776.80 329.30L777.30 329.30L777.30 175.70L777.80 175.70L777.80 348.50L778.30 329.30L778.30 156.50L778.80 156.50L778.80 329.30L779.30 329.30L779.30 204.50L779.80 204.50L779.80 319.70L780.30 319.70L780.30 204.50L780.80 204.50L780.80 319.70L781.30 319.70L781.30 204.50L781.80 204.50L781.80 319.70L782.30 319.70L782.30 146.90L782.80 118.10L782.80 386.90L783.30 358.10L783.30 118.10L783.80 166.10L783.80 358.10L784.30 358.10L784.30 166.10L784.80 166.10L784.80 358.10L785.30 358.10L785.30 166.10L785.80 166.10L785.80 358.10L786.30 329.30L786.30 166.10L786.80 166.10L786.80 329.30L787.30 329.30L787.30 166.10L787.80 166.10L787.80 329.30L788.30 329.30L788.30 156.50L788.80 156.50L788.80 329.30L789.30 329.30L789.30 156.50L789.80 127.70L789.80 329.30L790.30 338.90L790.30 127.70L790.80 146.90L790.80 338.90L791.30 338.90L791.30 146.90L791.80 146.90L791.80 338.90L792.30 338.90L792.30 146.90L792.80 146.90L792.80 338.90L793.30 338.90L793.30 127.70L793.80 127.70L793.80 338.90L794.30 338.90L794.30 146.90L794.80 156.50L794.80 338.90L795.30 338.90L795.30 156.50L795.80 156.50L795.80 377.30L796.30 377.30L796.30 156.50L796.80 194.90L796.80 377.30L797.30 377.30L797.30 194.90L797.80 194.90L797.80 377.30L798.30 391.70L798.30 194.90L798.80 194.90L798.80 358.10L799.30 358.10L799.30 194.90L799.80 194.90L799.80 358.10L800.30 358.10L800.30 194.90L800.80 185.30L800.80 338.90L801.30 338.90L801.30 185.30L801.80 185.30L801.80 338.90L802.30 338.90L802.30 185.30L802.80 185.30L802.80 338.90L803.30 338.90L803.30 185.30L803.80 175.70L803.80 338.90L804.30 338.90L804.30 175.70L804.80 175.70L804.80 338.90L805.30 338.90L805.30 137.30L805.80 137.30L805.80 338.90L806.30 319.70L806.30 166.10L806.80 166.10L806.80 319.70L807.30 319.70L807.30 185.30L807.80 185.30L807.80 319.70L808.30 319.70L808.30 185.30L808.80 185.30L808.80 319.70L809.30 319.70L809.30 185.30L809.80 185.30L809.80 319.70L810.30 358.10L810.30 175.70L810.80 166.10L810.80 358.10L811.30 358.10L811.30 185.30L811.80 185.30L811.80 358.10L812.30 358.10L812.30 185.30L812.80 185.30L812.80 367.70L813.30 367.70L813.30 185.30L813.80 185.30L813.80 348.50L814.30 348.50L814.30 175.70L814.80 175.70L814.80 348.50L815.30 338.90L815.30 175.70L815.80 175.70L815.80 338.90L816.30 338.90L816.30 175.70L816.80 175.70L816.80 338.90L817.30 338.90L817.30 146.90L817.80 156.50L817.80 338.90L818.30 338.90L818.30 156.50L818.80 156.50L818.80 338.90L819.30 338.90L819.30 156.50L819.80 156.50L819.80 348.50L820.30 348.50L820.30 156.50L820.80 156.50L820.80 348.50L821.30 386.90L821.30 156.50L821.80 156.50L821.80 319.70L822.30 319.70L822.30 156.50L822.80 156.50L822.80 319.70L823.30 319.70L823.30 156.50L823.80 156.50L823.80 319.70L824.30 319.70L824.30 127.70L824.80 127.70L824.80 319.70L825.30 319.70L825.30 146.90L825.80 146.90L825.80 319.70L826.30 319.70L826.30 146.90L826.80 137.30L826.80 319.70L827.30 319.70L827.30 137.30L827.80 166.10L827.80 319.70L828.30 338.90L828.30 166.10L828.80 166.10L828.80 329.30L829.30 329.30L829.30 166.10L829.80 166.10L829.80 329.30L830.30 329.30L830.30 166.10L830.80 175.70L830.80 329.30L831.30 329.30L831.30 175.70L831.80 175.70L831.80 329.30L832.30 329.30L832.30 175.70L832.80 175.70L832.80 329.30L833.30 329.30L833.30 175.70L833.80 175.70L833.80 329.30L834.30 348.50L834.30 127.70L834.80 127.70L834.80 348.50L835.30 348.50L835.30 146.90L835.80 146.90L835.80 348.50L836.30 348.50L836.30 146.90L836.80 146.90L836.80 348.50L837.30 329.30L837.30 146.90L837.80 146.90L837.80 329.30L838.30 329.30L838.30 108.50L838.80 108.50L838.80 329.30L839.30 329.30L839.30 166.10L839.80 166.10L839.80 329.30L840.30 329.30L840.30 166.10L840.80 166.10L840.80 329.30L841.30 329.30L841.30 166.10L841.80 166.10L841.80 329.30L842.30 329.30L842.30 166.10L842.80 156.50L842.80 348.50L843.30 348.50L843.30 175.70L843.80 175.70L843.80 329.30L844.30 329.30L844.30 175.70L844.80 175.70L844.80 329.30L845.30 329.30L845.30 175.70L845.80 175.70L845.80 329.30L846.30 329.30L846.30 175.70L846.80 175.70L846.80 329.30L847.30 329.30L847.30 175.70L847.80 175.70L847.80 329.30L848.30 338.90L848.30 146.90L848.80 166.10L848.80 338.90L849.30 338.90L849.30 166.10L849.80 166.10L849.80 338.90L850.30 338.90L850.30 166.10L850.80 166.10L850.80 348.50L851.30 348.50L851.30 166.10L851.80 156.50L851.80 348.50L852.30 358.10L852.30 166.10L852.80 166.10L852.80 329.30L853.30 329.30L853.30 175.70L853.80 175.70L853.80 329.30L854.30 329.30L854.30 175.70L854.80 175.70L854.80 329.30L855.30 329.30L855.30 185.30L855.80 185.30L855.80 329.30L856.30 338.90L856.30 214.10L856.80 214.10L856.80 338.90L857.30 338.90L857.30 214.10L857.80 214.10L857.80 338.90L858.30 338.90L858.30 214.10L858.80 214.10L858.80 338.90L859.30 377.30L859.30 214.10L859.80 185.30L859.80 348.50L860.30 348.50L860.30 185.30L860.80 166.10L860.80 348.50L861.30 348.50L861.30 166.10L861.80 166.10L861.80 348.50L862.30 348.50L862.30 166.10L862.80 166.10L862.80 348.50L863.30 348.50L863.30 166.10L863.80 166.10L863.80 348.50L864.30 348.50L864.30 166.10L864.80 166.10L864.80 348.50L865.30 348.50L865.30 166.10L865.80 127.70L865.80 358.10L866.30 358.10L866.30 127.70L866.80 146.90L866.80 358.10L867.30 348.50L867.30 146.90L867.80 156.50L867.80 348.50L868.30 348.50L868.30 156.50L868.80 156.50L868.80 348.50L869.30 348.50L869.30 166.10L869.80 166.10L869.80 348.50L870.30 348.50L870.30 166.10L870.80 175.70L870.80 348.50L871.30 389.30L871.30 175.70L871.80 175.70L871.80 329.30L872.30 329.30L872.30 185.30L872.80 185.30L872.80 329.30L873.30 329.30L873.30 185.30L873.80 185.30L873.80 329.30L874.30 329.30L874.30 185.30L874.80 185.30L874.80 329.30L875.30 329.30L875.30 185.30L875.80 156.50L875.80 329.30L876.30 329.30L876.30 156.50L876.80 156.50L876.80 348.50L877.30 319.70L877.30 156.50L877.80 156.50L877.80 319.70L878.30 319.70L878.30 156.50L878.80 156.50L878.80 319.70L879.30 319.70L879.30 156.50L879.80 156.50L879.80 338.90L880.30 338.90L880.30 156.50L880.80 156.50L880.80 338.90L881.30 338.90L881.30 156.50L881.80 156.50L881.80 338.90L882.30 348.50L882.30 156.50L882.80 156.50L882.80 348.50L883.30 348.50L883.30 156.50L883.80 156.50L883.80 329.30L884.30 329.30L884.30 156.50L884.80 156.50L884.80 329.30L885.30 329.30L885.30 108.50L885.80 108.50L885.80 329.30L886.30 329.30L886.30 166.10L886.80 166.10L886.80 329.30L887.30 329.30L887.30 166.10L887.80 166.10L887.80 329.30L888.30 329.30L888.30 166.10L888.80 166.10L888.80 329.30L889.30 338.90L889.30 185.30L889.80 185.30L889.80 338.90L890.30 338.90L890.30 185.30L890.80 185.30L890.80 338.90L891.30 338.90L891.30 185.30L891.80 185.30L891.80 348.50L892.30 348.50L892.30 118.10L892.80 118.10L892.80 348.50L893.30 348.50L893.30 146.90L893.80 146.90L893.80 348.50L894.30 348.50L894.30 146.90L894.80 60.50L894.80 386.90L895.30 386.90L895.30 60.50L895.80 146.90L895.80 386.90L896.30 329.30L896.30 146.90L896.80 127.70L896.80 329.30L897.30 329.30L897.30 127.70L897.80 156.50L897.80 329.30L898.30 329.30L898.30 156.50L898.80 156.50L898.80 329.30L899.30 329.30L899.30 156.50L899.80 156.50L899.80 319.70L900.30 319.70L900.30 156.50L900.80 137.30L900.80 319.70L901.30 319.70L901.30 137.30L901.80 156.50L901.80 319.70L902.30 319.70L902.30 156.50L902.80 156.50L902.80 329.30L903.30 329.30L903.30 156.50L903.80 166.10L903.80 329.30L904.30 367.70L904.30 166.10L904.80 166.10L904.80 367.70L905.30 367.70L905.30 166.10L905.80 166.10L905.80 338.90L906.30 338.90L906.30 166.10L906.80 166.10L906.80 338.90L907.30 338.90L907.30 146.90L907.80 175.70L907.80 338.90L908.30 338.90L908.30 175.70L908.80 194.90L908.80 338.90L909.30 338.90L909.30 194.90L909.80 194.90L909.80 338.90L910.30 386.90L910.30 194.90L910.80 194.90L910.80 367.70L911.30 367.70L911.30 194.90L911.80 194.90L911.80 367.70L912.30 367.70L912.30 146.90L912.80 146.90L912.80 348.50L913.30 348.50L913.30 146.90L913.80 146.90L913.80 348.50L914.30 348.50L914.30 146.90L914.80 146.90L914.80 348.50L915.30 348.50L915.30 146.90L915.80 60.50L915.80 348.50L916.30 348.50L916.30 60.50L916.80 146.90L916.80 348.50L917.30 358.10L917.30 108.50L917.80 108.50L917.80 358.10L918.30 338.90L918.30 146.90L918.80 146.90L918.80 338.90L919.30 338.90L919.30 146.90L919.80 146.90L919.80 329.30L920.30 329.30L920.30 137.30L920.80 137.30L920.80 329.30L921.30 329.30L921.30 137.30L921.80 166.10L921.80 329.30L922.30 329.30L922.30 166.10L922.80 166.10L922.80 348.50L923.30 348.50L923.30 166.10L923.80 166.10L923.80 348.50L924.30 348.50L924.30 166.10L924.80 146.90L924.80 348.50L925.30 348.50L925.30 166.10L925.80 108.50L925.80 348.50L926.30 348.50L926.30 108.50L926.80 166.10L926.80 348.50L927.30 358.10L927.30 166.10L927.80 166.10L927.80 329.30L928.30 329.30L928.30 166.10L928.80 166.10L928.80 329.30L929.30 329.30L929.30 166.10L929.80 166.10L929.80 329.30L930.30 329.30L930.30 166.10L930.80 175.70L930.80 329.30L931.30 329.30L931.30 175.70L931.80 175.70L931.80 329.30L932.30 329.30L932.30 175.70L932.80 175.70L932.80 329.30L933.30 329.30L933.30 175.70L933.80 175.70L933.80 348.50L934.30 348.50L934.30 175.70L934.80 175.70L934.80 348.50L935.30 348.50L935.30 175.70L935.80 175.70L935.80 338.90L936.30 338.90L936.30 175.70L936.80 175.70L936.80 338.90L937.30 338.90L937.30 175.70L937.80 175.70L937.80 338.90L938.30 338.90L938.30 175.70L938.80 175.70L938.80 319.70L939.30 319.70L939.30 166.10L939.80 166.10L939.80 319.70L940.30 319.70L940.30 166.10L940.80 166.10L940.80 319.70L941.30 319.70L941.30 166.10L941.80 146.90L941.80 358.10L942.30 358.10L942.30 108.50L942.80 108.50L942.80 358.10L943.30 358.10L943.30 185.30L943.80 185.30L943.80 358.10L944.30 358.10L944.30 185.30L944.80 185.30L944.80 358.10L945.30 358.10L945.30 185.30L945.80 146.90L945.80 358.10L946.30 329.30L946.30 60.50L946.80 60.50L946.80 329.30L947.30 329.30L947.30 166.10L947.80 166.10L947.80 329.30L948.30 329.30L948.30 166.10L948.80 166.10L948.80 329.30L949.30 329.30L949.30 166.10L949.80 166.10L949.80 358.10L950.30 358.10L950.30 166.10L950.80 185.30L950.80 338.90L951.30 338.90L951.30 185.30L951.80 185.30L951.80 338.90L952.30 338.90L952.30 194.90L952.80 194.90L952.80 338.90L953.30 338.90L953.30 194.90L953.80 194.90L953.80 338.90L954.30 348.50L954.30 194.90L954.80 194.90L954.80 338.90L955.30 338.90L955.30 194.90L955.80 156.50L955.80 338.90L956.30 338.90L956.30 194.90L956.80 194.90L956.80 338.90L957.30 338.90L957.30 194.90L957.80 194.90L957.80 338.90L958.30 338.90L958.30 194.90L958.80 194.90L958.80 348.50L959.30 348.50L959.30 194.90L959.80 156.50L959.80 348.50L960.30 358.10L960.30 156.50L960.80 156.50L960.80 358.10L961.30 358.10L961.30 108.50L961.80 108.50L961.80 358.10L962.30 358.10L962.30 166.10L962.80 166.10L962.80 358.10L963.30 319.70L963.30 166.10L963.80 166.10L963.80 319.70L964.30 319.70L964.30 175.70L964.80 175.70L964.80 319.70L965.30 319.70L965.30 175.70L965.80 175.70L965.80 319.70L966.30 329.30L966.30 175.70L966.80 175.70L966.80 329.30L967.30 329.30L967.30 127.70L967.80 127.70L967.80 329.30L968.30 358.10L968.30 166.10L968.80 166.10L968.80 338.90L969.30 338.90L969.30 166.10L969.80 166.10L969.80 338.90L970.30 338.90L970.30 166.10L970.80 166.10L970.80 338.90L971.30 338.90L971.30 127.70L971.80 127.70L971.80 338.90L972.30 338.90L972.30 146.90L972.80 137.30L972.80 338.90L973.30 338.90L973.30 137.30L973.80 146.90L973.80 338.90L974.30 358.10L974.30 146.90L974.80 194.90L974.80 358.10L975.30 358.10L975.30 194.90L975.80 194.90L975.80 386.90L976.30 329.30L976.30 194.90L976.80 194.90L976.80 329.30L977.30 329.30L977.30 194.90L977.80 194.90L977.80 329.30L978.30 329.30L978.30 175.70L978.80 175.70L978.80 329.30L979.30 329.30L979.30 175.70L979.80 175.70L979.80 319.70L980.30 319.70L980.30 175.70L980.80 127.70L980.80 319.70L981.30 319.70L981.30 127.70L981.80 156.50L981.80 319.70L982.30 348.50L982.30 156.50L982.80 156.50L982.80 329.30L983.30 329.30L983.30 156.50L983.80 156.50L983.80 329.30L984.30 329.30L984.30 146.90L984.80 175.70L984.80 329.30L985.30 329.30L985.30 175.70L985.80 175.70L985.80 329.30L986.30 319.70L986.30 175.70L986.80 175.70L986.80 319.70L987.30 319.70L987.30 175.70L987.80 175.70L987.80 319.70L988.30 319.70L988.30 166.10L988.80 166.10L988.80 319.70L989.30 348.50L989.30 204.50L989.80 204.50L989.80 348.50L990.30 329.30L990.30 204.50L990.80 204.50L990.80 329.30L991.30 329.30L991.30 204.50L991.80 204.50L991.80 329.30L992.30 329.30L992.30 204.50L992.80 204.50L992.80 329.30L993.30 329.30L993.30 204.50L993.80 204.50L993.80 329.30L994.30 329.30L994.30 166.10L994.80 166.10L994.80 358.10L995.30 348.50L995.30 166.10L995.80 166.10L995.80 348.50L996.30 348.50L996.30 166.10L996.80 166.10L996.80 348.50L997.30 348.50L997.30 137.30L997.80 137.30L997.80 338.90L998.30 338.90L998.30 166.10L998.80 185.30L998.80 338.90L999.30 338.90L999.30 185.30L999.80 185.30L999.80 338.90L1000.30 338.90L1000.30 185.30L1000.80 185.30L1000.80 338.90L1001.30 338.90L1001.30 185.30L1001.80 185.30L1001.80 338.90L1002.30 338.90L1002.30 185.30L1002.80 185.30L1002.80 338.90L1003.30 338.90L1003.30 185.30L1003.80 185.30L1003.80 338.90L1004.30 338.90L1004.30 185.30L1004.80 185.30L1004.80 338.90L1005.30 338.90L1005.30 185.30L1005.80 214.10L1005.80 367.70L1006.30 367.70L1006.30 214.10L1006.80 214.10L1006.80 367.70L1007.30 367.70L1007.30 214.10L1007.80 214.10L1007.80 367.70L1008.30 386.90L1008.30 214.10L1008.80 214.10L1008.80 338.90L1009.30 338.90L1009.30 214.10L1009.80 214.10L1009.80 338.90L1010.30 338.90L1010.30 194.90L1010.80 194.90L1010.80 338.90L1011.30 338.90L1011.30 194.90L1011.80 166.10L1011.80 338.90L1012.30 338.90L1012.30 194.90L1012.80 194.90L1012.80 391.70L1013.30 391.70L1013.30 194.90L1013.80 194.90L1013.80 391.70L1014.30 367.70L1014.30 194.90L1014.80 194.90L1014.80 367.70L1015.30 367.70L1015.30 166.10L1015.80 166.10L1015.80 367.70L1016.30 367.70L1016.30 204.50L1016.80 204.50L1016.80 367.70L1017.30 367.70L1017.30 204.50L1017.80 204.50L1017.80 367.70L1018.30 367.70L1018.30 204.50L1018.80 204.50L1018.80 386.90L1019.30 319.70L1019.30 204.50L1019.80 204.50L1019.80 319.70L1020.30 319.70L1020.30 194.90L1020.80 194.90L1020.80 319.70L1021.30 319.70L1021.30 194.90L1021.80 194.90L1021.80 319.70L1022.30 338.90L1022.30 146.90L1022.80 175.70L1022.80 338.90L1023.30 338.90L1023.30 175.70L1023.80 175.70L1023.80 338.90L1024.30 338.90L1024.30 175.70L1024.80 175.70L1024.80 338.90L1025.30 338.90L1025.30 175.70L1025.80 137.30L1025.80 338.90L1026.30 338.90L1026.30 137.30L1026.80 137.30L1026.80 338.90L1027.30 338.90L1027.30 185.30L1027.80 185.30L1027.80 338.90L1028.30 338.90L1028.30 185.30L1028.80 194.90L1028.80 338.90L1029.30 338.90L1029.30 194.90L1029.80 194.90L1029.80 338.90L1030.30 338.90L1030.30 194.90L1030.80 194.90L1030.80 348.50L1031.30 338.90L1031.30 194.90L1031.80 194.90L1031.80 338.90L1032.30 338.90L1032.30 156.50L1032.80 156.50L1032.80 338.90L1033.30 338.90L1033.30 156.50L1033.80 156.50L1033.80 338.90L1034.30 338.90L1034.30 146.90L1034.80 146.90L1034.80 338.90L1035.30 338.90L1035.30 108.50L1035.80 108.50L1035.80 338.90L1036.30 338.90L1036.30 166.10L1036.80 166.10L1036.80 338.90L1037.30 338.90L1037.30 166.10L1037.80 166.10L1037.80 338.90L1038.30 338.90L1038.30 166.10L1038.80 137.30L1038.80 338.90L1039.30 338.90L1039.30 137.30L1039.80 175.70L1039.80 338.90L1040.30 338.90L1040.30 194.90L1040.80 194.90L1040.80 358.10L1041.30 358.10L1041.30 194.90L1041.80 194.90L1041.80 358.10L1042.30 358.10L1042.30 194.90L1042.80 194.90L1042.80 358.10L1043.30 358.10L1043.30 166.10L1043.80 185.30L1043.80 358.10L1044.30 358.10L1044.30 194.90L1044.80 194.90L1044.80 358.10L1045.30 386.90L1045.30 194.90L1045.80 214.10L1045.80 358.10L1046.30 358.10L1046.30 214.10L1046.80 214.10L1046.80 358.10L1047.30 358.10L1047.30 214.10L1047.80 214.10L1047.80 358.10L1048.30 358.10L1048.30 214.10L1048.80 214.10L1048.80 358.10L1049.30 358.10L1049.30 214.10L1049.80 214.10L1049.80 348.50L1050.30 348.50L1050.30 214.10L1050.80 214.10L1050.80 348.50L1051.30 348.50L1051.30 214.10L1051.80 156.50L1051.80 348.50L1052.30 348.50L1052.30 156.50L1052.80 156.50L1052.80 348.50L1053.30 367.70L1053.30 156.50L1053.80 156.50L1053.80 367.70L1054.30 367.70L1054.30 156.50L1054.80 146.90L1054.80 367.70L1055.30 348.50L1055.30 146.90L1055.80 146.90L1055.80 348.50L1056.30 348.50L1056.30 146.90L1056.80 146.90L1056.80 348.50L1057.30 348.50L1057.30 118.10L1057.80 118.10L1057.80 348.50L1058.30 319.70L1058.30 156.50L1058.80 156.50L1058.80 319.70L1059.30 319.70L1059.30 156.50L1059.80 156.50L1059.80 319.70L1060.30 319.70L1060.30 156.50L1060.80 156.50L1060.80 319.70L1061.30 319.70L1061.30 156.50L1061.80 156.50L1061.80 329.30L1062.30 329.30L1062.30 156.50L1062.80 137.30L1062.80 329.30L1063.30 329.30L1063.30 137.30L1063.80 137.30L1063.80 329.30L1064.30 329.30L1064.30 185.30L1064.80 185.30L1064.80 329.30L1065.30 329.30L1065.30 185.30L1065.80 185.30L1065.80 329.30L1066.30 319.70L1066.30 185.30L1066.80 185.30L1066.80 319.70L1067.30 319.70L1067.30 166.10L1067.80 166.10L1067.80 319.70L1068.30 319.70L1068.30 166.10L1068.80 166.10L1068.80 319.70L1069.30 319.70L1069.30 175.70L1069.80 175.70L1069.80 319.70L1070.30 338.90L1070.30 175.70L1070.80 204.50L1070.80 338.90L1071.30 338.90L1071.30 204.50L1071.80 204.50L1071.80 338.90L1072.30 386.90L1072.30 204.50L1072.80 204.50L1072.80 329.30L1073.30 329.30L1073.30 204.50L1073.80 156.50L1073.80 329.30L1074.30 329.30L1074.30 175.70L1074.80 175.70L1074.80 329.30L1075.30 329.30L1075.30 175.70L1075.80 185.30L1075.80 389.30L1076.30 389.30L1076.30 185.30L1076.80 185.30L1076.80 389.30L1077.30 389.30L1077.30 185.30L1077.80 185.30L1077.80 348.50L1078.30 348.50L1078.30 185.30L1078.80 137.30L1078.80 348.50L1079.30 348.50L1079.30 137.30L1079.80 146.90L1079.80 348.50L1080.30 348.50L1080.30 156.50L1080.80 108.50L1080.80 338.90L1081.30 338.90L1081.30 108.50L1081.80 194.90L1081.80 338.90L1082.30 338.90L1082.30 194.90L1082.80 194.90L1082.80 338.90L1083.30 338.90L1083.30 194.90L1083.80 194.90L1083.80 338.90L1084.30 338.90L1084.30 194.90L1084.80 175.70L1084.80 338.90L1085.30 338.90L1085.30 137.30L1085.80 137.30L1085.80 338.90L1086.30 338.90L1086.30 146.90L1086.80 146.90L1086.80 338.90L1087.30 338.90L1087.30 146.90L1087.80 146.90L1087.80 338.90L1088.30 338.90L1088.30 146.90L1088.80 137.30L1088.80 338.90L1089.30 338.90L1089.30 137.30L1089.80 137.30L1089.80 338.90L1090.30 338.90L1090.30 166.10L1090.80 137.30L1090.80 358.10L1091.30 358.10L1091.30 137.30L1091.80 175.70L1091.80 329.30L1092.30 329.30L1092.30 175.70L1092.80 175.70L1092.80 329.30L1093.30 329.30L1093.30 194.90L1093.80 194.90L1093.80 329.30L1094.30 329.30L1094.30 194.90L1094.80 194.90L1094.80 329.30L1095.30 338.90L1095.30 194.90L1095.80 194.90L1095.80 338.90L1096.30 338.90L1096.30 194.90L1096.80 194.90L1096.80 338.90L1097.30 338.90L1097.30 194.90L1097.80 194.90L1097.80 338.90L1098.30 338.90L1098.30 194.90L1098.80 194.90L1098.80 329.30L1099.30 329.30L1099.30 194.90L1099.80 156.50L1099.80 319.70L1100.30 319.70L1100.30 156.50L1100.80 156.50L1100.80 319.70L1101.30 319.70L1101.30 118.10L1101.80 118.10L1101.80 319.70L1102.30 329.30L1102.30 194.90L1102.80 194.90L1102.80 329.30L1103.30 329.30L1103.30 194.90L1103.80 194.90L1103.80 329.30L1104.30 338.90L1104.30 194.90L1104.80 146.90L1104.80 338.90L1105.30 338.90L1105.30 146.90L1105.80 146.90L1105.80 338.90L1106.30 338.90L1106.30 146.90L1106.80 146.90L1106.80 338.90L1107.30 338.90L1107.30 146.90L1107.80 137.30L1107.80 338.90L1108.30 338.90L1108.30 137.30L1108.80 146.90L1108.80 338.90L1109.30 338.90L1109.30 146.90L1109.80 146.90L1109.80 338.90L1110.30 367.70L1110.30 146.90L1110.80 146.90L1110.80 338.90L1111.30 338.90L1111.30 146.90L1111.80 146.90L1111.80 338.90L1112.30 338.90L1112.30 127.70L1112.80 127.70L1112.80 338.90L1113.30 338.90L1113.30 146.90L1113.80 108.50L1113.80 338.90L1114.30 338.90L1114.30 108.50L1114.80 146.90L1114.80 338.90L1115.30 338.90L1115.30 146.90L1115.80 146.90L1115.80 338.90L1116.30 338.90L1116.30 146.90L1116.80 146.90L1116.80 338.90L1117.30 338.90L1117.30 108.50L1117.80 108.50L1117.80 338.90L1118.30 338.90L1118.30 146.90L1118.80 146.90L1118.80 338.90L1119.30 358.10L1119.30 146.90L1119.80 146.90L1119.80 358.10L1120.30 358.10L1120.30 166.10L1120.80 166.10L1120.80 358.10L1121.30 358.10L1121.30 166.10L1121.80 166.10L1121.80 386.90L1122.30 386.90L1122.30 166.10L1122.80 166.10L1122.80 386.90L1123.30 386.90L1123.30 166.10L1123.80 127.70L1123.80 338.90L1124.30 338.90L1124.30 127.70L1124.80 175.70L1124.80 338.90L1125.30 338.90L1125.30 175.70L1125.80 194.90L1125.80 338.90L1126.30 338.90L1126.30 194.90L1126.80 194.90L1126.80 338.90L1127.30 338.90L1127.30 194.90L1127.80 194.90L1127.80 338.90L1128.30 338.90L1128.30 194.90L1128.80 194.90L1128.80 338.90L1129.30 367.70L1129.30 194.90L1129.80 194.90L1129.80 348.50L1130.30 348.50L1130.30 146.90L1130.80 127.70L1130.80 348.50L1131.30 348.50L1131.30 127.70L1131.80 166.10L1131.80 319.70L1132.30 319.70L1132.30 166.10L1132.80 166.10L1132.80 319.70L1133.30 319.70L1133.30 166.10L1133.80 194.90L1133.80 319.70L1134.30 319.70L1134.30 194.90L1134.80 194.90L1134.80 358.10L1135.30 358.10L1135.30 194.90L1135.80 194.90L1135.80 358.10L1136.30 348.50L1136.30 194.90L1136.80 194.90L1136.80 348.50L1137.30 348.50L1137.30 194.90L1137.80 194.90L1137.80 348.50L1138.30 348.50L1138.30 194.90L1138.80 194.90L1138.80 329.30L1139.30 329.30L1139.30 194.90L1139.80 146.90L1139.80 329.30L1140.30 329.30L1140.30 194.90L1140.80 194.90L1140.80 329.30L1141.30 329.30L1141.30 194.90L1141.80 194.90L1141.80 329.30L1142.30 358.10L1142.30 194.90L1142.80 60.50L1142.80 358.10L1143.30 358.10L1143.30 60.50L1143.80 185.30L1143.80 358.10L1144.30 348.50L1144.30 185.30L1144.80 185.30L1144.80 348.50L1145.30 348.50L1145.30 185.30L1145.80 127.70L1145.80 348.50L1146.30 348.50L1146.30 127.70L1146.80 194.90L1146.80 348.50L1147.30 348.50L1147.30 194.90"/>
<path stroke="#ff7f0e" d="M696.50 396.50L705.00 396.50L705.30 395.81L705.80 390.37L706.30 395.41L706.80 389.99L707.30 395.81L707.80 390.29L708.30 395.42L708.80 391.78L709.30 395.42L709.80 390.69L710.30 395.96L710.80 391.26L711.30 395.45L711.80 390.59L712.30 395.99L712.80 390.87L713.30 395.62L713.80 390.84L714.30 395.37L714.80 391.68L715.30 395.79L715.80 391.74L716.30 395.58L716.80 390.36L717.30 395.55L717.80 390.35L718.30 395.54L718.80 389.72L719.30 395.97L719.80 390.33L720.30 395.32L720.80 388.59L721.30 395.63L721.80 387.94L722.30 396.09L722.80 389.81L723.30 395.84L723.80 388.25L724.30 396.13L724.80 383.55L725.30 395.45L725.80 389.50L726.30 395.91L726.80 388.72L727.30 395.69L727.80 389.22L728.30 395.82L728.80 388.40L729.30 395.84L729.80 389.23L730.30 395.48L730.80 389.63L731.30 395.37L731.80 388.48L732.30 396.02L732.80 388.19L733.30 395.28L733.80 388.01L734.30 395.61L734.80 387.66L735.30 395.26L735.80 386.87L736.30 395.68L736.80 388.75L737.30 395.43L737.80 388.81L738.30 395.84L738.80 389.38L739.30 395.27L739.80 388.59L740.30 395.94L740.80 388.10L741.30 395.44L741.80 388.54L742.30 395.66L742.80 389.63L743.30 395.58L743.80 388.86L744.30 395.66L744.80 388.82L745.30 395.37L745.80 387.83L746.30 386.30L746.80 387.92L747.30 395.54L747.80 388.97L748.30 395.29L748.80 389.23L749.30 396.10L749.80 388.20L750.30 395.42L750.80 391.46L751.30 395.62L751.80 390.51L752.30 395.25L752.80 390.94L753.30 396.13L753.80 390.79L754.30 395.92L754.80 391.93L755.30 396.09L755.80 391.35L756.30 396.08L756.80 392.67L757.30 395.66L757.80 392.15L758.30 395.57L758.80 391.76L759.30 395.66L759.80 391.54L760.30 395.29L760.80 391.12L761.30 395.88L761.80 391.57L762.30 395.62L762.80 391.77L763.30 395.79L763.80 390.55L764.30 395.77L764.80 391.98L765.30 395.82L765.80 391.57L766.30 395.93L766.80 392.45L767.30 395.72L767.80 390.85L768.30 395.53L768.80 391.65L769.30 395.59L769.80 392.33L770.30 395.31L770.80 392.54L771.30 395.44L771.80 392.30L772.30 395.83L772.80 392.01L773.30 387.80L773.80 391.58L774.30 395.37L774.80 391.92L775.30 395.73L775.80 391.90L776.30 396.13L776.80 391.81L777.30 389.84L777.80 391.32L778.30 396.10L778.80 391.62L779.30 385.90L779.80 390.08L780.30 395.80L780.80 391.24L781.30 395.72L781.80 391.74L782.30 396.11L782.80 391.57L783.30 395.30L783.80 391.47L784.30 395.30L784.80 392.05L785.30 395.60L785.80 391.44L786.30 396.13L786.80 391.27L787.30 395.79L787.80 392.51L788.30 395.93L788.80 388.54L789.30 395.91L789.80 388.12L790.30 395.91L790.80 392.17L791.30 395.75L791.80 392.13L792.30 396.17L792.80 392.09L793.30 395.80L793.80 390.68L794.30 396.21L794.80 390.32L795.30 396.12L795.80 391.47L796.30 395.82L796.80 391.76L797.30 395.55L797.80 390.38L798.30 395.86L798.80 390.27L799.30 395.78L799.80 390.74L800.30 396.13L800.80 391.19L801.30 395.75L801.80 387.92L802.30 395.54L802.80 391.87L803.30 395.53L803.80 390.83L804.30 395.75L804.80 387.14L805.30 396.02L805.80 385.15L806.30 395.66L806.80 390.48L807.30 395.47L807.80 391.16L808.30 396.06L808.80 390.13L809.30 387.12L809.80 389.54L810.30 395.96L810.80 389.98L811.30 395.74L811.80 389.57L812.30 395.79L812.80 390.22L813.30 395.30L813.80 390.06L814.30 395.98L814.80 391.43L815.30 395.82L815.80 390.74L816.30 395.73L816.80 390.61L817.30 395.34L817.80 390.99L818.30 395.43L818.80 391.69L819.30 395.36L819.80 391.96L820.30 396.04L820.80 390.86L821.30 395.97L821.80 391.25L822.30 395.55L822.80 390.69L823.30 395.57L823.80 391.05L824.30 396.15L824.80 390.51L825.30 396.02L825.80 391.96L826.30 395.81L826.80 391.56L827.30 396.02L827.80 391.06L828.30 395.83L828.80 390.75L829.30 395.76L829.80 391.34L830.30 395.48L830.80 392.52L831.30 395.87L831.80 391.22L832.30 395.93L832.80 391.84L833.30 395.87L833.80 391.55L834.30 395.76L834.80 392.21L835.30 395.38L835.80 392.43L836.30 387.76L836.80 390.99L837.30 395.97L837.80 391.92L838.30 395.75L838.80 390.11L839.30 396.07L839.80 390.57L840.30 395.80L840.80 390.34L841.30 395.76L841.80 390.04L842.30 395.91L842.80 390.12L843.30 395.75L843.80 390.45L844.30 395.42L844.80 390.69L845.30 396.00L845.80 389.36L846.30 395.46L846.80 391.69L847.30 395.67L847.80 390.56L848.30 395.59L848.80 391.13L849.30 395.98L849.80 390.64L850.30 395.53L850.80 390.48L851.30 396.07L851.80 389.90L852.30 396.01L852.80 390.25L853.30 395.69L853.80 389.81L854.30 396.07L854.80 389.87L855.30 395.69L855.80 391.06L856.30 396.17L856.80 389.73L857.30 385.73L857.80 390.01L858.30 396.10L858.80 391.46L859.30 395.87L859.80 391.38L860.30 395.96L860.80 391.02L861.30 396.04L861.80 390.71L862.30 396.05L862.80 391.90L863.30 395.69L863.80 391.61L864.30 395.42L864.80 390.79L865.30 395.69L865.80 387.51L866.30 395.39L866.80 388.75L867.30 396.18L867.80 390.69L868.30 396.18L868.80 389.81L869.30 396.15L869.80 386.26L870.30 396.07L870.80 390.76L871.30 396.12L871.80 391.18L872.30 395.54L872.80 390.67L873.30 395.64L873.80 391.01L874.30 395.96L874.80 391.01L875.30 396.20L875.80 391.57L876.30 396.14L876.80 391.39L877.30 396.13L877.80 390.27L878.30 395.70L878.80 391.28L879.30 395.65L879.80 390.56L880.30 395.61L880.80 390.52L881.30 389.80L881.80 391.28L882.30 395.26L882.80 391.33L883.30 395.75L883.80 390.57L884.30 396.16L884.80 391.75L885.30 395.45L885.80 390.67L886.30 396.16L886.80 391.80L887.30 396.20L887.80 391.73L888.30 396.08L888.80 390.80L889.30 395.57L889.80 391.05L890.30 395.38L890.80 391.35L891.30 395.68L891.80 391.60L892.30 395.88L892.80 392.00L893.30 396.21L893.80 392.87L894.30 395.96L894.80 392.83L895.30 396.06L895.80 392.72L896.30 395.54L896.80 392.24L897.30 396.02L897.80 391.79L898.30 395.62L898.80 392.33L899.30 396.20L899.80 391.57L900.30 395.99L900.80 390.79L901.30 395.58L901.80 390.73L902.30 395.35L902.80 386.10L903.30 395.91L903.80 390.62L904.30 396.02L904.80 392.10L905.30 395.31L905.80 390.96L906.30 395.84L906.80 391.04L907.30 396.14L907.80 391.15L908.30 395.27L908.80 391.55L909.30 395.51L909.80 391.16L910.30 385.98L910.80 391.09L911.30 386.13L911.80 391.61L912.30 396.03L912.80 391.54L913.30 396.11L913.80 390.61L914.30 395.44L914.80 391.34L915.30 395.70L915.80 386.86L916.30 395.48L916.80 391.55L917.30 395.30L917.80 391.50L918.30 396.12L918.80 391.13L919.30 385.26L919.80 390.19L920.30 395.86L920.80 390.55L921.30 395.94L921.80 391.01L922.30 396.06L922.80 390.87L923.30 395.97L923.80 390.45L924.30 395.35L924.80 391.19L925.30 396.06L925.80 391.14L926.30 386.32L926.80 390.96L927.30 395.70L927.80 391.79L928.30 395.86L928.80 391.81L929.30 390.37L929.80 390.98L930.30 395.69L930.80 390.69L931.30 395.90L931.80 391.06L932.30 395.89L932.80 390.59L933.30 395.55L933.80 391.54L934.30 395.52L934.80 391.79L935.30 396.07L935.80 391.73L936.30 395.84L936.80 391.70L937.30 395.99L937.80 391.78L938.30 395.38L938.80 391.25L939.30 396.11L939.80 392.39L940.30 395.47L940.80 390.88L941.30 395.68L941.80 391.77L942.30 386.03L942.80 390.40L943.30 395.27L943.80 390.56L944.30 395.37L944.80 390.35L945.30 396.02L945.80 391.45L946.30 395.90L946.80 391.37L947.30 395.47L947.80 390.64L948.30 396.17L948.80 391.60L949.30 395.64L949.80 390.06L950.30 396.08L950.80 391.56L951.30 395.33L951.80 391.49L952.30 395.77L952.80 392.25L953.30 395.68L953.80 391.61L954.30 396.02L954.80 390.92L955.30 396.20L955.80 391.91L956.30 396.21L956.80 392.35L957.30 395.65L957.80 391.23L958.30 395.35L958.80 390.99L959.30 396.10L959.80 392.35L960.30 395.73L960.80 391.29L961.30 395.77L961.80 392.01L962.30 388.77L962.80 391.83L963.30 396.19L963.80 391.11L964.30 395.34L964.80 392.16L965.30 395.66L965.80 391.27L966.30 395.99L966.80 390.54L967.30 395.78L967.80 392.16L968.30 395.43L968.80 391.57L969.30 396.17L969.80 391.17L970.30 396.00L970.80 391.56L971.30 396.01L971.80 391.72L972.30 388.87L972.80 390.51L973.30 395.64L973.80 390.37L974.30 396.17L974.80 391.85L975.30 395.51L975.80 390.12L976.30 395.80L976.80 390.76L977.30 396.20L977.80 390.95L978.30 395.94L978.80 389.79L979.30 386.99L979.80 390.69L980.30 395.51L980.80 390.39L981.30 395.73L981.80 389.67L982.30 395.97L982.80 389.55L983.30 395.34L983.80 390.41L984.30 396.08L984.80 391.51L985.30 395.77L985.80 390.42L986.30 395.93L986.80 390.74L987.30 395.44L987.80 390.82L988.30 395.93L988.80 390.88L989.30 395.93L989.80 390.60L990.30 396.04L990.80 390.55L991.30 395.70L991.80 390.65L992.30 395.47L992.80 390.50L993.30 395.69L993.80 389.69L994.30 396.16L994.80 390.71L995.30 395.79L995.80 390.40L996.30 395.70L996.80 391.56L997.30 395.54L997.80 391.82L998.30 395.58L998.80 391.79L999.30 395.57L999.80 388.50L1000.30 396.07L1000.80 391.85L1001.30 395.95L1001.80 390.00L1002.30 388.68L1002.80 391.29L1003.30 385.79L1003.80 391.27L1004.30 395.77L1004.80 391.60L1005.30 395.33L1005.80 390.59L1006.30 395.90L1006.80 391.27L1007.30 396.04L1007.80 390.93L1008.30 395.75L1008.80 390.64L1009.30 396.15L1009.80 389.81L1010.30 395.65L1010.80 390.64L1011.30 396.17L1011.80 391.44L1012.30 395.92L1012.80 391.13L1013.30 395.55L1013.80 390.55L1014.30 395.36L1014.80 390.60L1015.30 395.90L1015.80 390.82L1016.30 395.96L1016.80 388.02L1017.30 396.01L1017.80 391.03L1018.30 395.98L1018.80 391.50L1019.30 395.57L1019.80 391.29L1020.30 389.19L1020.80 390.29L1021.30 396.02L1021.80 390.31L1022.30 396.00L1022.80 391.10L1023.30 396.04L1023.80 391.60L1024.30 395.38L1024.80 390.96L1025.30 395.71L1025.80 391.87L1026.30 396.14L1026.80 391.94L1027.30 395.40L1027.80 391.74L1028.30 395.55L1028.80 391.63L1029.30 395.41L1029.80 392.32L1030.30 395.75L1030.80 391.15L1031.30 395.45L1031.80 391.10L1032.30 395.86L1032.80 391.43L1033.30 395.65L1033.80 392.26L1034.30 395.69L1034.80 391.41L1035.30 395.51L1035.80 392.32L1036.30 395.79L1036.80 391.62L1037.30 395.84L1037.80 390.79L1038.30 395.30L1038.80 390.46L1039.30 395.30L1039.80 391.63L1040.30 396.14L1040.80 390.67L1041.30 395.94L1041.80 390.25L1042.30 395.40L1042.80 390.75L1043.30 395.84L1043.80 391.28L1044.30 395.61L1044.80 390.48L1045.30 396.11L1045.80 390.98L1046.30 396.21L1046.80 391.87L1047.30 395.74L1047.80 390.31L1048.30 395.37L1048.80 390.54L1049.30 395.73L1049.80 390.57L1050.30 395.79L1050.80 390.22L1051.30 395.87L1051.80 390.01L1052.30 396.21L1052.80 389.96L1053.30 395.35L1053.80 389.90L1054.30 395.31L1054.80 391.29L1055.30 396.01L1055.80 390.58L1056.30 395.76L1056.80 391.32L1057.30 395.85L1057.80 391.51L1058.30 396.09L1058.80 391.59L1059.30 395.94L1059.80 391.76L1060.30 395.40L1060.80 390.63L1061.30 395.63L1061.80 390.70L1062.30 395.74L1062.80 391.84L1063.30 395.70L1063.80 390.84L1064.30 395.93L1064.80 391.36L1065.30 395.87L1065.80 391.28L1066.30 396.05L1066.80 390.73L1067.30 395.99L1067.80 390.58L1068.30 396.09L1068.80 391.08L1069.30 395.86L1069.80 392.21L1070.30 395.35L1070.80 392.19L1071.30 395.43L1071.80 392.11L1072.30 395.82L1072.80 391.15L1073.30 395.35L1073.80 390.86L1074.30 395.54L1074.80 392.57L1075.30 395.54L1075.80 392.38L1076.30 389.90L1076.80 391.06L1077.30 396.05L1077.80 391.19L1078.30 395.41L1078.80 390.82L1079.30 395.76L1079.80 391.18L1080.30 396.07L1080.80 392.39L1081.30 395.77L1081.80 391.75L1082.30 395.39L1082.80 391.71L1083.30 395.89L1083.80 391.18L1084.30 395.57L1084.80 390.51L1085.30 395.56L1085.80 390.64L1086.30 396.08L1086.80 391.06L1087.30 395.94L1087.80 391.99L1088.30 395.36L1088.80 390.70L1089.30 395.33L1089.80 392.30L1090.30 396.13L1090.80 391.08L1091.30 395.45L1091.80 392.39L1092.30 395.40L1092.80 392.20L1093.30 395.43L1093.80 391.52L1094.30 395.94L1094.80 391.97L1095.30 395.50L1095.80 392.20L1096.30 395.58L1096.80 390.61L1097.30 395.51L1097.80 390.77L1098.30 396.14L1098.80 390.32L1099.30 395.38L1099.80 390.32L1100.30 395.37L1100.80 391.87L1101.30 395.67L1101.80 390.27L1102.30 395.80L1102.80 390.41L1103.30 395.96L1103.80 391.37L1104.30 395.86L1104.80 388.00L1105.30 396.15L1105.80 390.83L1106.30 396.21L1106.80 392.33L1107.30 395.35L1107.80 391.24L1108.30 395.46L1108.80 391.69L1109.30 390.02L1109.80 390.55L1110.30 396.04L1110.80 391.84L1111.30 395.33L1111.80 390.48L1112.30 395.48L1112.80 390.22L1113.30 395.39L1113.80 391.33L1114.30 395.90L1114.80 390.94L1115.30 396.08L1115.80 391.09L1116.30 395.41L1116.80 390.84L1117.30 395.80L1117.80 390.75L1118.30 395.36L1118.80 389.54L1119.30 389.34L1119.80 391.17L1120.30 395.59L1120.80 390.97L1121.30 395.42L1121.80 389.81L1122.30 395.93L1122.80 391.07L1123.30 396.09L1123.80 391.47L1124.30 396.10L1124.80 391.05L1125.30 396.17L1125.80 391.28L1126.30 395.45L1126.80 391.19L1127.30 395.28L1127.80 390.95L1128.30 396.17L1128.80 391.47L1129.30 389.28L1129.80 390.14L1130.30 396.19L1130.80 390.87L1131.30 395.64L1131.80 391.36L1132.30 395.67L1132.80 390.16L1133.30 395.64L1133.80 391.64L1134.30 396.15L1134.80 390.38L1135.30 395.69L1135.80 391.75L1136.30 396.04L1136.80 390.62L1137.30 395.82L1137.80 392.36L1138.30 395.32L1138.80 390.98L1139.30 396.17L1139.80 391.81L1140.30 395.98L1140.80 390.95L1141.30 396.18L1141.80 391.08L1142.30 396.18L1142.80 390.70L1143.30 395.59L1143.80 391.46L1144.30 395.36L1144.80 391.73L1145.30 395.95L1145.80 391.62L1146.30 395.30L1146.80 390.98L1147.30 395.67"/>
</g>
<path d="M696.5 413.5v4.861M753.5 413.5v4.861M809.5 413.5v4.861M865.5 413.5v4.861M922.5 413.5v4.861M978.5 413.5v4.861M1035.5 413.5v4.861M1091.5 413.5v4.861M1147.5 413.5v4.861M674.5 396.50h-4.861M674.5 348.50h-4.861M674.5 300.50h-4.861M674.5 252.50h-4.861M674.5 204.50h-4.861M674.5 156.50h-4.861M674.5 108.50h-4.861M674.5 60.50h-4.861" stroke="#000" stroke-width="1.111" fill="none"/>
<rect x="674.5" y="44.5" width="496.0" height="369.0" fill="none" stroke="#000" stroke-width="1.111" stroke-linejoin="miter"/>
<text x="697.50" y="433.8" text-anchor="middle">0</text>
<text x="753.26" y="433.8" text-anchor="middle">2000</text>
<text x="809.63" y="433.8" text-anchor="middle">4000</text>
<text x="865.99" y="433.8" text-anchor="middle">6000</text>
<text x="922.36" y="433.8" text-anchor="middle">8000</text>
<text x="953.62" y="433.8" style="letter-spacing:-0.64px">10,000</text>
<text x="1011.98" y="433.8" style="letter-spacing:-0.64px">12,000</text>
<text x="1068.75" y="433.8" style="letter-spacing:-0.64px">14,000</text>
<text x="1123.91" y="433.8" style="letter-spacing:-0.64px">16,000</text>
<text x="664.50" y="401.80" text-anchor="end">0</text>
<text x="664.00" y="353.80" text-anchor="end">5</text>
<text x="664.00" y="305.80" text-anchor="end">10</text>
<text x="664.00" y="257.80" text-anchor="end">15</text>
<text x="664.00" y="209.80" text-anchor="end">20</text>
<text x="664.00" y="161.80" text-anchor="end">25</text>
<text x="664.00" y="113.80" text-anchor="end">30</text>
<text x="663.50" y="65.80" text-anchor="end">35</text>
<text x="921.70" y="453" text-anchor="middle">Step</text>
<text transform="translate(636.80 229) rotate(-90)" text-anchor="middle">Time (in steps)</text>
<text x="922.00" y="34.4" text-anchor="middle" style="font-size:16.667px">Cars waiting time</text>
<rect x="984.66" y="51.6" width="178.90" height="45.80" rx="2.78" ry="2.78" fill="#fff" fill-opacity="0.8" stroke="#ccc" stroke-opacity="0.7" stroke-width="1.1"/>
<path d="M989.96 61.9H1017.74" stroke="#1f77b4" stroke-width="2.083" stroke-linecap="square"/>
<path d="M989.96 83.1H1017.74" stroke="#ff7f0e" stroke-width="2.083" stroke-linecap="square"/>
<text x="1028.85" y="66.7">Max waiting time</text>
<text x="1028.85" y="87.9">Mean waiting time</text>
</svg>
</body>
</html>
